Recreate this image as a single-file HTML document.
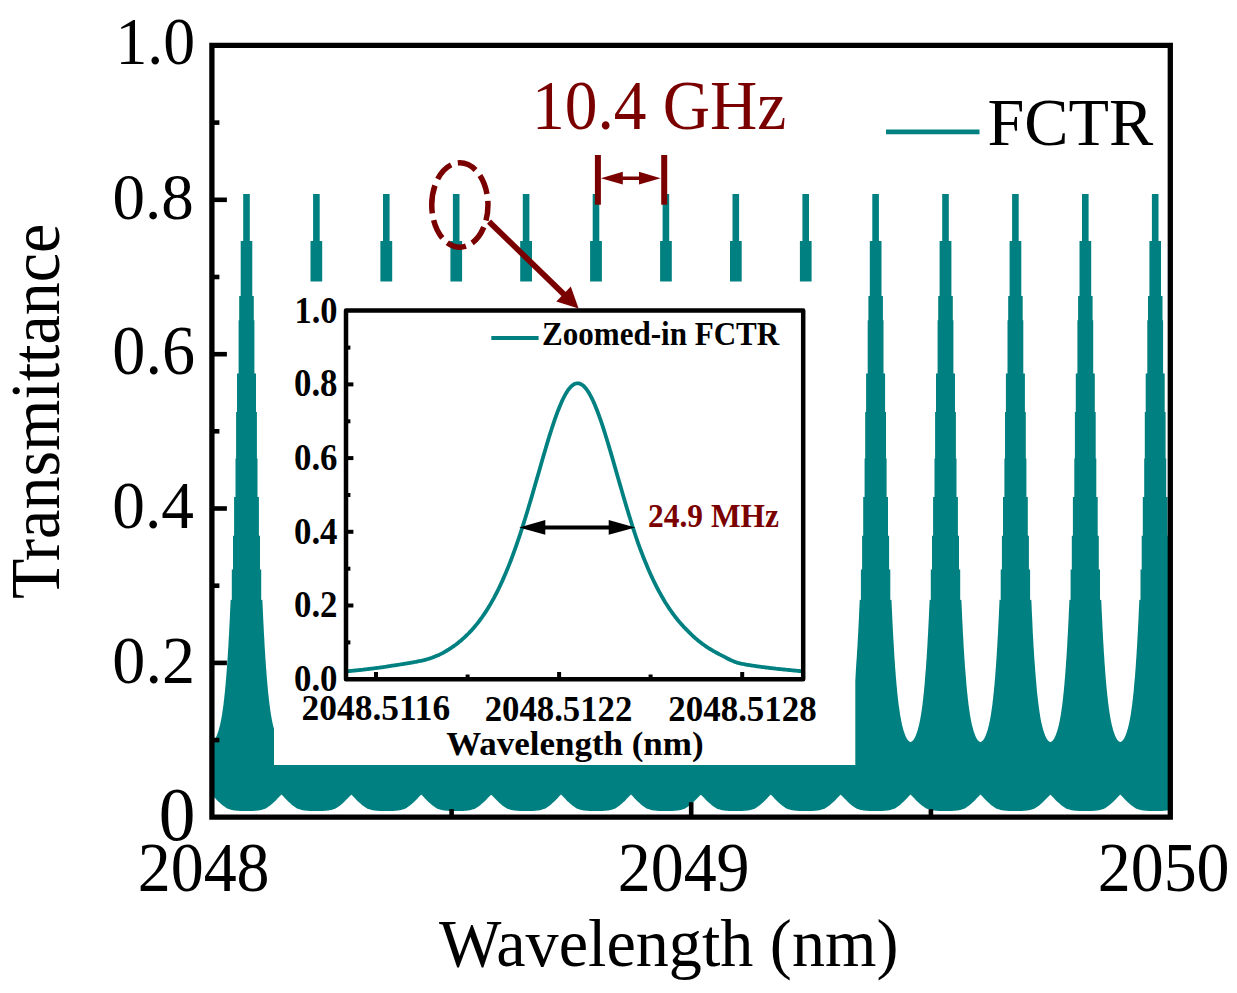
<!DOCTYPE html>
<html><head><meta charset="utf-8"><style>
html,body{margin:0;padding:0;background:#fff;width:1237px;height:993px;overflow:hidden}
svg{display:block}
text{font-family:"Liberation Serif",serif}
</style></head><body><div id="w">
<svg width="1237" height="993" viewBox="0 0 1237 993">
<rect x="0" y="0" width="1237" height="993" fill="#fff"/>
<defs><clipPath id="pc"><rect x="212" y="45" width="958" height="772"/></clipPath></defs>
<path d="M211.6,742.1 L211.9,742.0 L212.2,741.8 L212.6,741.6 L212.9,741.4 L213.3,741.1 L213.7,740.8 L214.0,740.4 L214.4,740.0 L214.7,739.5 L215.1,738.9 L215.4,738.4 L215.8,737.7 L216.1,737.0 L216.5,736.2 L216.8,735.4 L217.2,734.5 L217.5,733.6 L217.9,732.6 L218.2,731.5 L218.6,730.4 L218.9,729.2 L219.3,728.0 L219.6,726.6 L220.0,725.2 L220.3,723.6 L220.7,722.0 L221.0,720.2 L221.4,718.3 L221.7,716.4 L222.1,714.2 L222.4,712.0 L222.8,709.6 L223.1,707.1 L223.5,704.4 L223.8,701.5 L224.2,698.5 L224.5,695.3 L224.9,691.9 L225.2,688.3 L225.6,684.6 L225.9,680.5 L226.3,676.3 L226.6,671.8 L227.0,667.1 L227.3,662.1 L227.7,656.8 L228.0,651.3 L228.4,645.4 L228.7,639.2 L229.1,632.7 L229.4,625.9 L229.8,618.7 L230.1,611.2 L230.5,603.3 L230.6,599.8 L231.8,600.0 L231.8,569.6 L233.0,569.6 L233.0,535.8 L234.1,535.8 L234.1,497.0 L235.5,497.0 L235.5,458.5 L236.1,458.5 L236.1,411.9 L237.0,411.9 L237.0,373.4 L238.6,373.4 L238.6,320.3 L239.2,320.3 L239.2,296.0 L240.7,296.0 L240.7,240.9 L243.2,240.9 L243.2,194.1 L249.8,194.1 L249.8,240.9 L252.3,240.9 L252.3,296.0 L253.8,296.0 L253.8,320.3 L254.4,320.3 L254.4,373.4 L256.0,373.4 L256.0,411.9 L256.9,411.9 L256.9,458.5 L257.5,458.5 L257.5,497.0 L258.9,497.0 L258.9,535.8 L260.0,535.8 L260.0,569.6 L261.2,569.6 L261.2,600.0 L262.4,599.8 L262.5,603.3 L262.9,611.2 L263.2,618.7 L263.6,625.9 L263.9,632.7 L264.3,639.2 L264.6,645.4 L265.0,651.3 L265.3,656.8 L265.7,662.1 L266.0,667.1 L266.4,671.8 L266.7,676.3 L267.1,680.5 L267.4,684.6 L267.8,688.3 L268.1,691.9 L268.5,695.3 L268.8,698.5 L269.2,701.5 L269.5,704.4 L269.9,707.1 L270.2,709.6 L270.6,712.0 L270.9,714.2 L271.3,716.4 L271.6,718.3 L272.0,720.2 L272.3,722.0 L272.7,723.6 L273.0,725.2 L273.4,726.6 L273.8,728.0 L274.1,729.2 L274.4,730.4 L274.8,731.5 L275.1,732.6 L275.5,733.6 L275.8,734.5 L276.2,735.4 L276.5,736.2 L276.9,737.0 L277.2,737.7 L277.6,738.4 L277.9,738.9 L278.3,739.5 L278.6,740.0 L279.0,740.4 L279.4,740.8 L279.7,741.1 L280.1,741.4 L280.4,741.6 L280.8,741.8 L281.1,742.0 L281.4,742.1 L281.4,742.1 L281.8,742.0 L282.1,741.8 L282.5,741.6 L282.8,741.4 L283.2,741.1 L283.5,740.8 L283.9,740.4 L284.2,740.0 L284.6,739.5 L284.9,738.9 L285.3,738.4 L285.6,737.7 L286.0,737.0 L286.4,736.2 L286.7,735.4 L287.1,734.5 L287.4,733.6 L287.8,732.6 L288.1,731.5 L288.4,730.4 L288.8,729.2 L289.1,728.0 L289.5,726.6 L289.9,725.2 L290.2,723.6 L290.6,722.0 L290.9,720.2 L291.2,718.3 L291.6,716.4 L292.0,714.2 L292.3,712.0 L292.7,709.6 L293.0,707.1 L293.4,704.4 L293.7,701.5 L294.1,698.5 L294.4,695.3 L294.8,691.9 L295.1,688.3 L295.5,684.6 L295.8,680.5 L296.2,676.3 L296.5,671.8 L296.9,667.1 L297.2,662.1 L297.6,656.8 L297.9,651.3 L298.3,645.4 L298.6,639.2 L299.0,632.7 L299.3,625.9 L299.7,618.7 L300.0,611.2 L300.4,603.3 L300.5,599.8 L301.7,600.0 L301.7,569.6 L302.9,569.6 L302.9,535.8 L304.0,535.8 L304.0,497.0 L305.4,497.0 L305.4,458.5 L306.0,458.5 L306.0,411.9 L306.9,411.9 L306.9,373.4 L308.5,373.4 L308.5,320.3 L309.1,320.3 L309.1,296.0 L310.5,296.0 L310.5,240.9 L313.1,240.9 L313.1,194.1 L319.7,194.1 L319.7,240.9 L322.2,240.9 L322.2,296.0 L323.6,296.0 L323.6,320.3 L324.3,320.3 L324.3,373.4 L325.9,373.4 L325.9,411.9 L326.8,411.9 L326.8,458.5 L327.4,458.5 L327.4,497.0 L328.8,497.0 L328.8,535.8 L329.9,535.8 L329.9,569.6 L331.1,569.6 L331.1,600.0 L332.3,599.8 L332.4,603.3 L332.8,611.2 L333.1,618.7 L333.5,625.9 L333.8,632.7 L334.2,639.2 L334.5,645.4 L334.9,651.3 L335.2,656.8 L335.6,662.1 L335.9,667.1 L336.3,671.8 L336.6,676.3 L337.0,680.5 L337.3,684.6 L337.7,688.3 L338.0,691.9 L338.4,695.3 L338.7,698.5 L339.1,701.5 L339.4,704.4 L339.8,707.1 L340.1,709.6 L340.5,712.0 L340.8,714.2 L341.2,716.4 L341.5,718.3 L341.9,720.2 L342.2,722.0 L342.6,723.6 L342.9,725.2 L343.3,726.6 L343.6,728.0 L344.0,729.2 L344.3,730.4 L344.7,731.5 L345.0,732.6 L345.4,733.6 L345.7,734.5 L346.1,735.4 L346.4,736.2 L346.8,737.0 L347.1,737.7 L347.5,738.4 L347.8,738.9 L348.2,739.5 L348.5,740.0 L348.9,740.4 L349.2,740.8 L349.6,741.1 L349.9,741.4 L350.3,741.6 L350.6,741.8 L351.0,742.0 L351.3,742.1 L351.4,742.1 L351.7,742.0 L352.1,741.8 L352.4,741.6 L352.8,741.4 L353.1,741.1 L353.5,740.8 L353.8,740.4 L354.2,740.0 L354.5,739.5 L354.9,738.9 L355.2,738.4 L355.6,737.7 L355.9,737.0 L356.2,736.2 L356.6,735.4 L357.0,734.5 L357.3,733.6 L357.7,732.6 L358.0,731.5 L358.4,730.4 L358.7,729.2 L359.1,728.0 L359.4,726.6 L359.8,725.2 L360.1,723.6 L360.5,722.0 L360.8,720.2 L361.2,718.3 L361.5,716.4 L361.9,714.2 L362.2,712.0 L362.6,709.6 L362.9,707.1 L363.3,704.4 L363.6,701.5 L364.0,698.5 L364.3,695.3 L364.7,691.9 L365.0,688.3 L365.4,684.6 L365.7,680.5 L366.1,676.3 L366.4,671.8 L366.8,667.1 L367.1,662.1 L367.5,656.8 L367.8,651.3 L368.2,645.4 L368.5,639.2 L368.9,632.7 L369.2,625.9 L369.6,618.7 L369.9,611.2 L370.3,603.3 L370.4,599.8 L371.6,600.0 L371.6,569.6 L372.8,569.6 L372.8,535.8 L373.9,535.8 L373.9,497.0 L375.3,497.0 L375.3,458.5 L375.9,458.5 L375.9,411.9 L376.8,411.9 L376.8,373.4 L378.4,373.4 L378.4,320.3 L379.1,320.3 L379.1,296.0 L380.4,296.0 L380.4,240.9 L383.0,240.9 L383.0,194.1 L389.6,194.1 L389.6,240.9 L392.2,240.9 L392.2,296.0 L393.6,296.0 L393.6,320.3 L394.2,320.3 L394.2,373.4 L395.8,373.4 L395.8,411.9 L396.7,411.9 L396.7,458.5 L397.3,458.5 L397.3,497.0 L398.7,497.0 L398.7,535.8 L399.8,535.8 L399.8,569.6 L401.0,569.6 L401.0,600.0 L402.2,599.8 L402.3,603.3 L402.7,611.2 L403.0,618.7 L403.4,625.9 L403.7,632.7 L404.1,639.2 L404.4,645.4 L404.8,651.3 L405.1,656.8 L405.5,662.1 L405.8,667.1 L406.2,671.8 L406.5,676.3 L406.9,680.5 L407.2,684.6 L407.6,688.3 L407.9,691.9 L408.3,695.3 L408.6,698.5 L409.0,701.5 L409.3,704.4 L409.7,707.1 L410.0,709.6 L410.4,712.0 L410.8,714.2 L411.1,716.4 L411.4,718.3 L411.8,720.2 L412.1,722.0 L412.5,723.6 L412.8,725.2 L413.2,726.6 L413.5,728.0 L413.9,729.2 L414.2,730.4 L414.6,731.5 L414.9,732.6 L415.3,733.6 L415.6,734.5 L416.0,735.4 L416.4,736.2 L416.7,737.0 L417.1,737.7 L417.4,738.4 L417.8,738.9 L418.1,739.5 L418.4,740.0 L418.8,740.4 L419.1,740.8 L419.5,741.1 L419.9,741.4 L420.2,741.6 L420.6,741.8 L420.9,742.0 L421.2,742.1 L421.3,742.1 L421.6,742.0 L422.0,741.8 L422.3,741.6 L422.7,741.4 L423.0,741.1 L423.4,740.8 L423.7,740.4 L424.1,740.0 L424.4,739.5 L424.8,738.9 L425.1,738.4 L425.5,737.7 L425.8,737.0 L426.2,736.2 L426.5,735.4 L426.9,734.5 L427.2,733.6 L427.6,732.6 L427.9,731.5 L428.3,730.4 L428.6,729.2 L429.0,728.0 L429.3,726.6 L429.7,725.2 L430.0,723.6 L430.4,722.0 L430.7,720.2 L431.1,718.3 L431.4,716.4 L431.8,714.2 L432.1,712.0 L432.5,709.6 L432.8,707.1 L433.2,704.4 L433.5,701.5 L433.9,698.5 L434.2,695.3 L434.6,691.9 L434.9,688.3 L435.3,684.6 L435.6,680.5 L436.0,676.3 L436.3,671.8 L436.7,667.1 L437.0,662.1 L437.4,656.8 L437.7,651.3 L438.1,645.4 L438.4,639.2 L438.8,632.7 L439.1,625.9 L439.5,618.7 L439.8,611.2 L440.2,603.3 L440.3,599.8 L441.5,600.0 L441.5,569.6 L442.7,569.6 L442.7,535.8 L443.8,535.8 L443.8,497.0 L445.2,497.0 L445.2,458.5 L445.8,458.5 L445.8,411.9 L446.7,411.9 L446.7,373.4 L448.3,373.4 L448.3,320.3 L449.0,320.3 L449.0,296.0 L450.4,296.0 L450.4,240.9 L452.9,240.9 L452.9,194.1 L459.5,194.1 L459.5,240.9 L462.1,240.9 L462.1,296.0 L463.5,296.0 L463.5,320.3 L464.1,320.3 L464.1,373.4 L465.7,373.4 L465.7,411.9 L466.6,411.9 L466.6,458.5 L467.2,458.5 L467.2,497.0 L468.6,497.0 L468.6,535.8 L469.7,535.8 L469.7,569.6 L470.9,569.6 L470.9,600.0 L472.1,599.8 L472.2,603.3 L472.6,611.2 L472.9,618.7 L473.3,625.9 L473.6,632.7 L474.0,639.2 L474.3,645.4 L474.7,651.3 L475.0,656.8 L475.4,662.1 L475.8,667.1 L476.1,671.8 L476.4,676.3 L476.8,680.5 L477.1,684.6 L477.5,688.3 L477.9,691.9 L478.2,695.3 L478.6,698.5 L478.9,701.5 L479.2,704.4 L479.6,707.1 L479.9,709.6 L480.3,712.0 L480.6,714.2 L481.0,716.4 L481.4,718.3 L481.7,720.2 L482.1,722.0 L482.4,723.6 L482.8,725.2 L483.1,726.6 L483.5,728.0 L483.8,729.2 L484.2,730.4 L484.5,731.5 L484.9,732.6 L485.2,733.6 L485.6,734.5 L485.9,735.4 L486.2,736.2 L486.6,737.0 L487.0,737.7 L487.3,738.4 L487.7,738.9 L488.0,739.5 L488.4,740.0 L488.7,740.4 L489.1,740.8 L489.4,741.1 L489.8,741.4 L490.1,741.6 L490.5,741.8 L490.8,742.0 L491.2,742.1 L491.2,742.1 L491.5,742.0 L491.9,741.8 L492.2,741.6 L492.6,741.4 L492.9,741.1 L493.2,740.8 L493.6,740.4 L494.0,740.0 L494.3,739.5 L494.7,738.9 L495.0,738.4 L495.4,737.7 L495.7,737.0 L496.1,736.2 L496.4,735.4 L496.8,734.5 L497.1,733.6 L497.5,732.6 L497.8,731.5 L498.2,730.4 L498.5,729.2 L498.9,728.0 L499.2,726.6 L499.6,725.2 L499.9,723.6 L500.3,722.0 L500.6,720.2 L501.0,718.3 L501.3,716.4 L501.7,714.2 L502.0,712.0 L502.4,709.6 L502.7,707.1 L503.1,704.4 L503.4,701.5 L503.8,698.5 L504.1,695.3 L504.5,691.9 L504.8,688.3 L505.2,684.6 L505.5,680.5 L505.9,676.3 L506.2,671.8 L506.6,667.1 L506.9,662.1 L507.3,656.8 L507.6,651.3 L508.0,645.4 L508.3,639.2 L508.7,632.7 L509.0,625.9 L509.4,618.7 L509.7,611.2 L510.1,603.3 L510.2,599.8 L511.4,600.0 L511.4,569.6 L512.6,569.6 L512.6,535.8 L513.7,535.8 L513.7,497.0 L515.1,497.0 L515.1,458.5 L515.7,458.5 L515.7,411.9 L516.6,411.9 L516.6,373.4 L518.2,373.4 L518.2,320.3 L518.9,320.3 L518.9,296.0 L520.2,296.0 L520.2,240.9 L522.8,240.9 L522.8,194.1 L529.4,194.1 L529.4,240.9 L532.0,240.9 L532.0,296.0 L533.4,296.0 L533.4,320.3 L534.0,320.3 L534.0,373.4 L535.6,373.4 L535.6,411.9 L536.5,411.9 L536.5,458.5 L537.1,458.5 L537.1,497.0 L538.5,497.0 L538.5,535.8 L539.6,535.8 L539.6,569.6 L540.8,569.6 L540.8,600.0 L542.0,599.8 L542.1,603.3 L542.5,611.2 L542.8,618.7 L543.2,625.9 L543.5,632.7 L543.9,639.2 L544.2,645.4 L544.6,651.3 L544.9,656.8 L545.3,662.1 L545.6,667.1 L546.0,671.8 L546.3,676.3 L546.7,680.5 L547.0,684.6 L547.4,688.3 L547.8,691.9 L548.1,695.3 L548.4,698.5 L548.8,701.5 L549.1,704.4 L549.5,707.1 L549.9,709.6 L550.2,712.0 L550.5,714.2 L550.9,716.4 L551.2,718.3 L551.6,720.2 L552.0,722.0 L552.3,723.6 L552.6,725.2 L553.0,726.6 L553.4,728.0 L553.7,729.2 L554.0,730.4 L554.4,731.5 L554.8,732.6 L555.1,733.6 L555.5,734.5 L555.8,735.4 L556.1,736.2 L556.5,737.0 L556.9,737.7 L557.2,738.4 L557.5,738.9 L557.9,739.5 L558.2,740.0 L558.6,740.4 L559.0,740.8 L559.3,741.1 L559.6,741.4 L560.0,741.6 L560.4,741.8 L560.7,742.0 L561.1,742.1 L561.0,742.1 L561.4,742.0 L561.8,741.8 L562.1,741.6 L562.5,741.4 L562.8,741.1 L563.1,740.8 L563.5,740.4 L563.9,740.0 L564.2,739.5 L564.5,738.9 L564.9,738.4 L565.2,737.7 L565.6,737.0 L566.0,736.2 L566.3,735.4 L566.6,734.5 L567.0,733.6 L567.4,732.6 L567.7,731.5 L568.1,730.4 L568.4,729.2 L568.8,728.0 L569.1,726.6 L569.5,725.2 L569.8,723.6 L570.2,722.0 L570.5,720.2 L570.9,718.3 L571.2,716.4 L571.6,714.2 L571.9,712.0 L572.2,709.6 L572.6,707.1 L573.0,704.4 L573.3,701.5 L573.7,698.5 L574.0,695.3 L574.4,691.9 L574.7,688.3 L575.1,684.6 L575.4,680.5 L575.8,676.3 L576.1,671.8 L576.5,667.1 L576.8,662.1 L577.2,656.8 L577.5,651.3 L577.9,645.4 L578.2,639.2 L578.6,632.7 L578.9,625.9 L579.3,618.7 L579.6,611.2 L580.0,603.3 L580.1,599.8 L581.3,600.0 L581.3,569.6 L582.5,569.6 L582.5,535.8 L583.6,535.8 L583.6,497.0 L585.0,497.0 L585.0,458.5 L585.6,458.5 L585.6,411.9 L586.5,411.9 L586.5,373.4 L588.1,373.4 L588.1,320.3 L588.8,320.3 L588.8,296.0 L590.1,296.0 L590.1,240.9 L592.7,240.9 L592.7,194.1 L599.3,194.1 L599.3,240.9 L601.9,240.9 L601.9,296.0 L603.2,296.0 L603.2,320.3 L603.9,320.3 L603.9,373.4 L605.5,373.4 L605.5,411.9 L606.4,411.9 L606.4,458.5 L607.0,458.5 L607.0,497.0 L608.4,497.0 L608.4,535.8 L609.5,535.8 L609.5,569.6 L610.7,569.6 L610.7,600.0 L611.9,599.8 L612.0,603.3 L612.4,611.2 L612.7,618.7 L613.1,625.9 L613.4,632.7 L613.8,639.2 L614.1,645.4 L614.5,651.3 L614.8,656.8 L615.2,662.1 L615.5,667.1 L615.9,671.8 L616.2,676.3 L616.6,680.5 L616.9,684.6 L617.3,688.3 L617.6,691.9 L618.0,695.3 L618.3,698.5 L618.7,701.5 L619.0,704.4 L619.4,707.1 L619.8,709.6 L620.1,712.0 L620.4,714.2 L620.8,716.4 L621.1,718.3 L621.5,720.2 L621.8,722.0 L622.2,723.6 L622.5,725.2 L622.9,726.6 L623.2,728.0 L623.6,729.2 L623.9,730.4 L624.3,731.5 L624.6,732.6 L625.0,733.6 L625.4,734.5 L625.7,735.4 L626.0,736.2 L626.4,737.0 L626.8,737.7 L627.1,738.4 L627.5,738.9 L627.8,739.5 L628.1,740.0 L628.5,740.4 L628.9,740.8 L629.2,741.1 L629.5,741.4 L629.9,741.6 L630.2,741.8 L630.6,742.0 L631.0,742.1 L631.0,742.1 L631.3,742.0 L631.7,741.8 L632.0,741.6 L632.4,741.4 L632.7,741.1 L633.1,740.8 L633.4,740.4 L633.8,740.0 L634.1,739.5 L634.5,738.9 L634.8,738.4 L635.2,737.7 L635.5,737.0 L635.9,736.2 L636.2,735.4 L636.6,734.5 L636.9,733.6 L637.3,732.6 L637.6,731.5 L638.0,730.4 L638.3,729.2 L638.7,728.0 L639.0,726.6 L639.4,725.2 L639.7,723.6 L640.1,722.0 L640.4,720.2 L640.8,718.3 L641.1,716.4 L641.5,714.2 L641.8,712.0 L642.2,709.6 L642.5,707.1 L642.9,704.4 L643.2,701.5 L643.6,698.5 L643.9,695.3 L644.3,691.9 L644.6,688.3 L645.0,684.6 L645.3,680.5 L645.7,676.3 L646.0,671.8 L646.4,667.1 L646.7,662.1 L647.1,656.8 L647.4,651.3 L647.8,645.4 L648.1,639.2 L648.5,632.7 L648.8,625.9 L649.2,618.7 L649.5,611.2 L649.9,603.3 L650.0,599.8 L651.2,600.0 L651.2,569.6 L652.4,569.6 L652.4,535.8 L653.5,535.8 L653.5,497.0 L654.9,497.0 L654.9,458.5 L655.5,458.5 L655.5,411.9 L656.4,411.9 L656.4,373.4 L658.0,373.4 L658.0,320.3 L658.7,320.3 L658.7,296.0 L660.1,296.0 L660.1,240.9 L662.6,240.9 L662.6,194.1 L669.2,194.1 L669.2,240.9 L671.8,240.9 L671.8,296.0 L673.2,296.0 L673.2,320.3 L673.8,320.3 L673.8,373.4 L675.4,373.4 L675.4,411.9 L676.3,411.9 L676.3,458.5 L676.9,458.5 L676.9,497.0 L678.3,497.0 L678.3,535.8 L679.4,535.8 L679.4,569.6 L680.6,569.6 L680.6,600.0 L681.8,599.8 L682.0,603.3 L682.3,611.2 L682.6,618.7 L683.0,625.9 L683.4,632.7 L683.7,639.2 L684.1,645.4 L684.4,651.3 L684.8,656.8 L685.1,662.1 L685.5,667.1 L685.8,671.8 L686.2,676.3 L686.5,680.5 L686.9,684.6 L687.2,688.3 L687.6,691.9 L687.9,695.3 L688.2,698.5 L688.6,701.5 L689.0,704.4 L689.3,707.1 L689.7,709.6 L690.0,712.0 L690.4,714.2 L690.7,716.4 L691.1,718.3 L691.4,720.2 L691.8,722.0 L692.1,723.6 L692.5,725.2 L692.8,726.6 L693.2,728.0 L693.5,729.2 L693.9,730.4 L694.2,731.5 L694.6,732.6 L694.9,733.6 L695.3,734.5 L695.6,735.4 L696.0,736.2 L696.3,737.0 L696.7,737.7 L697.0,738.4 L697.4,738.9 L697.7,739.5 L698.1,740.0 L698.4,740.4 L698.8,740.8 L699.1,741.1 L699.5,741.4 L699.8,741.6 L700.2,741.8 L700.5,742.0 L700.9,742.1 L700.9,742.1 L701.2,742.0 L701.6,741.8 L701.9,741.6 L702.3,741.4 L702.6,741.1 L703.0,740.8 L703.3,740.4 L703.7,740.0 L704.0,739.5 L704.4,738.9 L704.7,738.4 L705.1,737.7 L705.4,737.0 L705.8,736.2 L706.1,735.4 L706.5,734.5 L706.8,733.6 L707.2,732.6 L707.5,731.5 L707.9,730.4 L708.2,729.2 L708.6,728.0 L708.9,726.6 L709.3,725.2 L709.6,723.6 L710.0,722.0 L710.3,720.2 L710.7,718.3 L711.0,716.4 L711.4,714.2 L711.7,712.0 L712.1,709.6 L712.4,707.1 L712.8,704.4 L713.1,701.5 L713.5,698.5 L713.8,695.3 L714.2,691.9 L714.5,688.3 L714.9,684.6 L715.2,680.5 L715.6,676.3 L715.9,671.8 L716.3,667.1 L716.6,662.1 L717.0,656.8 L717.3,651.3 L717.7,645.4 L718.0,639.2 L718.4,632.7 L718.7,625.9 L719.1,618.7 L719.4,611.2 L719.8,603.3 L719.9,599.8 L721.1,600.0 L721.1,569.6 L722.3,569.6 L722.3,535.8 L723.4,535.8 L723.4,497.0 L724.8,497.0 L724.8,458.5 L725.4,458.5 L725.4,411.9 L726.3,411.9 L726.3,373.4 L727.9,373.4 L727.9,320.3 L728.6,320.3 L728.6,296.0 L730.0,296.0 L730.0,240.9 L732.5,240.9 L732.5,194.1 L739.1,194.1 L739.1,240.9 L741.7,240.9 L741.7,296.0 L743.1,296.0 L743.1,320.3 L743.7,320.3 L743.7,373.4 L745.3,373.4 L745.3,411.9 L746.2,411.9 L746.2,458.5 L746.8,458.5 L746.8,497.0 L748.2,497.0 L748.2,535.8 L749.3,535.8 L749.3,569.6 L750.5,569.6 L750.5,600.0 L751.7,599.8 L751.9,603.3 L752.2,611.2 L752.5,618.7 L752.9,625.9 L753.2,632.7 L753.6,639.2 L754.0,645.4 L754.3,651.3 L754.6,656.8 L755.0,662.1 L755.4,667.1 L755.7,671.8 L756.0,676.3 L756.4,680.5 L756.8,684.6 L757.1,688.3 L757.5,691.9 L757.8,695.3 L758.1,698.5 L758.5,701.5 L758.9,704.4 L759.2,707.1 L759.6,709.6 L759.9,712.0 L760.2,714.2 L760.6,716.4 L761.0,718.3 L761.3,720.2 L761.7,722.0 L762.0,723.6 L762.4,725.2 L762.7,726.6 L763.1,728.0 L763.4,729.2 L763.8,730.4 L764.1,731.5 L764.5,732.6 L764.8,733.6 L765.2,734.5 L765.5,735.4 L765.9,736.2 L766.2,737.0 L766.6,737.7 L766.9,738.4 L767.2,738.9 L767.6,739.5 L768.0,740.0 L768.3,740.4 L768.7,740.8 L769.0,741.1 L769.4,741.4 L769.7,741.6 L770.1,741.8 L770.4,742.0 L770.8,742.1 L770.8,742.1 L771.1,742.0 L771.5,741.8 L771.8,741.6 L772.2,741.4 L772.5,741.1 L772.9,740.8 L773.2,740.4 L773.6,740.0 L773.9,739.5 L774.2,738.9 L774.6,738.4 L775.0,737.7 L775.3,737.0 L775.7,736.2 L776.0,735.4 L776.4,734.5 L776.7,733.6 L777.1,732.6 L777.4,731.5 L777.8,730.4 L778.1,729.2 L778.5,728.0 L778.8,726.6 L779.2,725.2 L779.5,723.6 L779.9,722.0 L780.2,720.2 L780.6,718.3 L780.9,716.4 L781.3,714.2 L781.6,712.0 L782.0,709.6 L782.3,707.1 L782.7,704.4 L783.0,701.5 L783.4,698.5 L783.7,695.3 L784.1,691.9 L784.4,688.3 L784.8,684.6 L785.1,680.5 L785.5,676.3 L785.8,671.8 L786.2,667.1 L786.5,662.1 L786.9,656.8 L787.2,651.3 L787.6,645.4 L787.9,639.2 L788.3,632.7 L788.6,625.9 L789.0,618.7 L789.3,611.2 L789.7,603.3 L789.8,599.8 L791.0,600.0 L791.0,569.6 L792.2,569.6 L792.2,535.8 L793.3,535.8 L793.3,497.0 L794.7,497.0 L794.7,458.5 L795.3,458.5 L795.3,411.9 L796.2,411.9 L796.2,373.4 L797.8,373.4 L797.8,320.3 L798.5,320.3 L798.5,296.0 L799.9,296.0 L799.9,240.9 L802.4,240.9 L802.4,194.1 L809.0,194.1 L809.0,240.9 L811.6,240.9 L811.6,296.0 L813.0,296.0 L813.0,320.3 L813.6,320.3 L813.6,373.4 L815.2,373.4 L815.2,411.9 L816.1,411.9 L816.1,458.5 L816.7,458.5 L816.7,497.0 L818.1,497.0 L818.1,535.8 L819.2,535.8 L819.2,569.6 L820.4,569.6 L820.4,600.0 L821.6,599.8 L821.8,603.3 L822.1,611.2 L822.4,618.7 L822.8,625.9 L823.1,632.7 L823.5,639.2 L823.9,645.4 L824.2,651.3 L824.5,656.8 L824.9,662.1 L825.2,667.1 L825.6,671.8 L826.0,676.3 L826.3,680.5 L826.6,684.6 L827.0,688.3 L827.4,691.9 L827.7,695.3 L828.0,698.5 L828.4,701.5 L828.8,704.4 L829.1,707.1 L829.5,709.6 L829.8,712.0 L830.1,714.2 L830.5,716.4 L830.9,718.3 L831.2,720.2 L831.5,722.0 L831.9,723.6 L832.2,725.2 L832.6,726.6 L833.0,728.0 L833.3,729.2 L833.6,730.4 L834.0,731.5 L834.4,732.6 L834.7,733.6 L835.1,734.5 L835.4,735.4 L835.8,736.2 L836.1,737.0 L836.5,737.7 L836.8,738.4 L837.2,738.9 L837.5,739.5 L837.9,740.0 L838.2,740.4 L838.6,740.8 L838.9,741.1 L839.2,741.4 L839.6,741.6 L840.0,741.8 L840.3,742.0 L840.7,742.1 L840.6,742.1 L841.0,742.0 L841.4,741.8 L841.7,741.6 L842.1,741.4 L842.4,741.1 L842.8,740.8 L843.1,740.4 L843.5,740.0 L843.8,739.5 L844.2,738.9 L844.5,738.4 L844.9,737.7 L845.2,737.0 L845.6,736.2 L845.9,735.4 L846.2,734.5 L846.6,733.6 L847.0,732.6 L847.3,731.5 L847.7,730.4 L848.0,729.2 L848.4,728.0 L848.7,726.6 L849.1,725.2 L849.4,723.6 L849.8,722.0 L850.1,720.2 L850.5,718.3 L850.8,716.4 L851.2,714.2 L851.5,712.0 L851.9,709.6 L852.2,707.1 L852.6,704.4 L852.9,701.5 L853.3,698.5 L853.6,695.3 L854.0,691.9 L854.3,688.3 L854.7,684.6 L855.0,680.5 L855.4,676.3 L855.7,671.8 L856.1,667.1 L856.4,662.1 L856.8,656.8 L857.1,651.3 L857.5,645.4 L857.8,639.2 L858.2,632.7 L858.5,625.9 L858.9,618.7 L859.2,611.2 L859.6,603.3 L859.7,599.8 L860.9,600.0 L860.9,569.6 L862.1,569.6 L862.1,535.8 L863.2,535.8 L863.2,497.0 L864.6,497.0 L864.6,458.5 L865.2,458.5 L865.2,411.9 L866.1,411.9 L866.1,373.4 L867.7,373.4 L867.7,320.3 L868.4,320.3 L868.4,296.0 L869.8,296.0 L869.8,240.9 L872.3,240.9 L872.3,194.1 L878.9,194.1 L878.9,240.9 L881.5,240.9 L881.5,296.0 L882.9,296.0 L882.9,320.3 L883.5,320.3 L883.5,373.4 L885.1,373.4 L885.1,411.9 L886.0,411.9 L886.0,458.5 L886.6,458.5 L886.6,497.0 L888.0,497.0 L888.0,535.8 L889.1,535.8 L889.1,569.6 L890.3,569.6 L890.3,600.0 L891.5,599.8 L891.6,603.3 L892.0,611.2 L892.3,618.7 L892.7,625.9 L893.0,632.7 L893.4,639.2 L893.8,645.4 L894.1,651.3 L894.4,656.8 L894.8,662.1 L895.1,667.1 L895.5,671.8 L895.8,676.3 L896.2,680.5 L896.5,684.6 L896.9,688.3 L897.2,691.9 L897.6,695.3 L897.9,698.5 L898.3,701.5 L898.6,704.4 L899.0,707.1 L899.4,709.6 L899.7,712.0 L900.0,714.2 L900.4,716.4 L900.8,718.3 L901.1,720.2 L901.5,722.0 L901.8,723.6 L902.1,725.2 L902.5,726.6 L902.9,728.0 L903.2,729.2 L903.5,730.4 L903.9,731.5 L904.2,732.6 L904.6,733.6 L905.0,734.5 L905.3,735.4 L905.6,736.2 L906.0,737.0 L906.4,737.7 L906.7,738.4 L907.0,738.9 L907.4,739.5 L907.8,740.0 L908.1,740.4 L908.5,740.8 L908.8,741.1 L909.1,741.4 L909.5,741.6 L909.9,741.8 L910.2,742.0 L910.6,742.1 L910.5,742.1 L910.9,742.0 L911.2,741.8 L911.6,741.6 L912.0,741.4 L912.3,741.1 L912.6,740.8 L913.0,740.4 L913.4,740.0 L913.7,739.5 L914.0,738.9 L914.4,738.4 L914.8,737.7 L915.1,737.0 L915.5,736.2 L915.8,735.4 L916.1,734.5 L916.5,733.6 L916.9,732.6 L917.2,731.5 L917.6,730.4 L917.9,729.2 L918.2,728.0 L918.6,726.6 L919.0,725.2 L919.3,723.6 L919.7,722.0 L920.0,720.2 L920.4,718.3 L920.7,716.4 L921.1,714.2 L921.4,712.0 L921.8,709.6 L922.1,707.1 L922.5,704.4 L922.8,701.5 L923.2,698.5 L923.5,695.3 L923.9,691.9 L924.2,688.3 L924.6,684.6 L924.9,680.5 L925.2,676.3 L925.6,671.8 L926.0,667.1 L926.3,662.1 L926.7,656.8 L927.0,651.3 L927.4,645.4 L927.7,639.2 L928.1,632.7 L928.4,625.9 L928.8,618.7 L929.1,611.2 L929.5,603.3 L929.6,599.8 L930.8,600.0 L930.8,569.6 L932.0,569.6 L932.0,535.8 L933.1,535.8 L933.1,497.0 L934.5,497.0 L934.5,458.5 L935.1,458.5 L935.1,411.9 L936.0,411.9 L936.0,373.4 L937.6,373.4 L937.6,320.3 L938.2,320.3 L938.2,296.0 L939.6,296.0 L939.6,240.9 L942.2,240.9 L942.2,194.1 L948.8,194.1 L948.8,240.9 L951.4,240.9 L951.4,296.0 L952.8,296.0 L952.8,320.3 L953.4,320.3 L953.4,373.4 L955.0,373.4 L955.0,411.9 L955.9,411.9 L955.9,458.5 L956.5,458.5 L956.5,497.0 L957.9,497.0 L957.9,535.8 L959.0,535.8 L959.0,569.6 L960.2,569.6 L960.2,600.0 L961.4,599.8 L961.5,603.3 L961.9,611.2 L962.2,618.7 L962.6,625.9 L962.9,632.7 L963.3,639.2 L963.6,645.4 L964.0,651.3 L964.3,656.8 L964.7,662.1 L965.0,667.1 L965.4,671.8 L965.8,676.3 L966.1,680.5 L966.4,684.6 L966.8,688.3 L967.1,691.9 L967.5,695.3 L967.8,698.5 L968.2,701.5 L968.5,704.4 L968.9,707.1 L969.2,709.6 L969.6,712.0 L969.9,714.2 L970.3,716.4 L970.6,718.3 L971.0,720.2 L971.3,722.0 L971.7,723.6 L972.0,725.2 L972.4,726.6 L972.8,728.0 L973.1,729.2 L973.4,730.4 L973.8,731.5 L974.1,732.6 L974.5,733.6 L974.9,734.5 L975.2,735.4 L975.5,736.2 L975.9,737.0 L976.2,737.7 L976.6,738.4 L977.0,738.9 L977.3,739.5 L977.6,740.0 L978.0,740.4 L978.4,740.8 L978.7,741.1 L979.0,741.4 L979.4,741.6 L979.8,741.8 L980.1,742.0 L980.5,742.1 L980.5,742.1 L980.8,742.0 L981.2,741.8 L981.5,741.6 L981.9,741.4 L982.2,741.1 L982.6,740.8 L982.9,740.4 L983.3,740.0 L983.6,739.5 L984.0,738.9 L984.3,738.4 L984.7,737.7 L985.0,737.0 L985.4,736.2 L985.7,735.4 L986.1,734.5 L986.4,733.6 L986.8,732.6 L987.1,731.5 L987.5,730.4 L987.8,729.2 L988.2,728.0 L988.5,726.6 L988.9,725.2 L989.2,723.6 L989.6,722.0 L989.9,720.2 L990.3,718.3 L990.6,716.4 L991.0,714.2 L991.3,712.0 L991.7,709.6 L992.0,707.1 L992.4,704.4 L992.7,701.5 L993.1,698.5 L993.4,695.3 L993.8,691.9 L994.1,688.3 L994.5,684.6 L994.8,680.5 L995.2,676.3 L995.5,671.8 L995.9,667.1 L996.2,662.1 L996.6,656.8 L996.9,651.3 L997.3,645.4 L997.6,639.2 L998.0,632.7 L998.3,625.9 L998.7,618.7 L999.0,611.2 L999.4,603.3 L999.5,599.8 L1000.7,600.0 L1000.7,569.6 L1001.9,569.6 L1001.9,535.8 L1003.0,535.8 L1003.0,497.0 L1004.4,497.0 L1004.4,458.5 L1005.0,458.5 L1005.0,411.9 L1005.9,411.9 L1005.9,373.4 L1007.5,373.4 L1007.5,320.3 L1008.2,320.3 L1008.2,296.0 L1009.6,296.0 L1009.6,240.9 L1012.1,240.9 L1012.1,194.1 L1018.7,194.1 L1018.7,240.9 L1021.3,240.9 L1021.3,296.0 L1022.7,296.0 L1022.7,320.3 L1023.3,320.3 L1023.3,373.4 L1024.9,373.4 L1024.9,411.9 L1025.8,411.9 L1025.8,458.5 L1026.4,458.5 L1026.4,497.0 L1027.8,497.0 L1027.8,535.8 L1028.9,535.8 L1028.9,569.6 L1030.1,569.6 L1030.1,600.0 L1031.3,599.8 L1031.5,603.3 L1031.8,611.2 L1032.2,618.7 L1032.5,625.9 L1032.8,632.7 L1033.2,639.2 L1033.5,645.4 L1033.9,651.3 L1034.2,656.8 L1034.6,662.1 L1035.0,667.1 L1035.3,671.8 L1035.7,676.3 L1036.0,680.5 L1036.4,684.6 L1036.7,688.3 L1037.0,691.9 L1037.4,695.3 L1037.8,698.5 L1038.1,701.5 L1038.5,704.4 L1038.8,707.1 L1039.2,709.6 L1039.5,712.0 L1039.9,714.2 L1040.2,716.4 L1040.5,718.3 L1040.9,720.2 L1041.2,722.0 L1041.6,723.6 L1042.0,725.2 L1042.3,726.6 L1042.7,728.0 L1043.0,729.2 L1043.4,730.4 L1043.7,731.5 L1044.1,732.6 L1044.4,733.6 L1044.8,734.5 L1045.1,735.4 L1045.5,736.2 L1045.8,737.0 L1046.2,737.7 L1046.5,738.4 L1046.9,738.9 L1047.2,739.5 L1047.6,740.0 L1047.9,740.4 L1048.2,740.8 L1048.6,741.1 L1049.0,741.4 L1049.3,741.6 L1049.7,741.8 L1050.0,742.0 L1050.4,742.1 L1050.4,742.1 L1050.7,742.0 L1051.1,741.8 L1051.4,741.6 L1051.8,741.4 L1052.1,741.1 L1052.5,740.8 L1052.8,740.4 L1053.2,740.0 L1053.5,739.5 L1053.9,738.9 L1054.2,738.4 L1054.6,737.7 L1054.9,737.0 L1055.3,736.2 L1055.6,735.4 L1056.0,734.5 L1056.3,733.6 L1056.7,732.6 L1057.0,731.5 L1057.4,730.4 L1057.7,729.2 L1058.1,728.0 L1058.4,726.6 L1058.8,725.2 L1059.1,723.6 L1059.5,722.0 L1059.8,720.2 L1060.2,718.3 L1060.5,716.4 L1060.9,714.2 L1061.2,712.0 L1061.6,709.6 L1061.9,707.1 L1062.3,704.4 L1062.6,701.5 L1063.0,698.5 L1063.3,695.3 L1063.7,691.9 L1064.0,688.3 L1064.4,684.6 L1064.7,680.5 L1065.1,676.3 L1065.4,671.8 L1065.8,667.1 L1066.1,662.1 L1066.5,656.8 L1066.8,651.3 L1067.2,645.4 L1067.5,639.2 L1067.9,632.7 L1068.2,625.9 L1068.6,618.7 L1068.9,611.2 L1069.3,603.3 L1069.4,599.8 L1070.6,600.0 L1070.6,569.6 L1071.8,569.6 L1071.8,535.8 L1072.9,535.8 L1072.9,497.0 L1074.3,497.0 L1074.3,458.5 L1074.9,458.5 L1074.9,411.9 L1075.8,411.9 L1075.8,373.4 L1077.4,373.4 L1077.4,320.3 L1078.1,320.3 L1078.1,296.0 L1079.5,296.0 L1079.5,240.9 L1082.0,240.9 L1082.0,194.1 L1088.6,194.1 L1088.6,240.9 L1091.2,240.9 L1091.2,296.0 L1092.6,296.0 L1092.6,320.3 L1093.2,320.3 L1093.2,373.4 L1094.8,373.4 L1094.8,411.9 L1095.7,411.9 L1095.7,458.5 L1096.3,458.5 L1096.3,497.0 L1097.7,497.0 L1097.7,535.8 L1098.8,535.8 L1098.8,569.6 L1100.0,569.6 L1100.0,600.0 L1101.2,599.8 L1101.4,603.3 L1101.7,611.2 L1102.1,618.7 L1102.4,625.9 L1102.8,632.7 L1103.1,639.2 L1103.5,645.4 L1103.8,651.3 L1104.2,656.8 L1104.5,662.1 L1104.9,667.1 L1105.2,671.8 L1105.6,676.3 L1105.9,680.5 L1106.3,684.6 L1106.6,688.3 L1107.0,691.9 L1107.3,695.3 L1107.7,698.5 L1108.0,701.5 L1108.4,704.4 L1108.7,707.1 L1109.1,709.6 L1109.4,712.0 L1109.8,714.2 L1110.1,716.4 L1110.5,718.3 L1110.8,720.2 L1111.2,722.0 L1111.5,723.6 L1111.9,725.2 L1112.2,726.6 L1112.6,728.0 L1112.9,729.2 L1113.3,730.4 L1113.6,731.5 L1114.0,732.6 L1114.3,733.6 L1114.7,734.5 L1115.0,735.4 L1115.4,736.2 L1115.7,737.0 L1116.1,737.7 L1116.4,738.4 L1116.8,738.9 L1117.1,739.5 L1117.5,740.0 L1117.8,740.4 L1118.2,740.8 L1118.5,741.1 L1118.9,741.4 L1119.2,741.6 L1119.6,741.8 L1119.9,742.0 L1120.3,742.1 L1120.2,742.1 L1120.6,742.0 L1121.0,741.8 L1121.3,741.6 L1121.7,741.4 L1122.0,741.1 L1122.4,740.8 L1122.7,740.4 L1123.0,740.0 L1123.4,739.5 L1123.8,738.9 L1124.1,738.4 L1124.5,737.7 L1124.8,737.0 L1125.2,736.2 L1125.5,735.4 L1125.9,734.5 L1126.2,733.6 L1126.6,732.6 L1126.9,731.5 L1127.2,730.4 L1127.6,729.2 L1128.0,728.0 L1128.3,726.6 L1128.7,725.2 L1129.0,723.6 L1129.4,722.0 L1129.7,720.2 L1130.1,718.3 L1130.4,716.4 L1130.8,714.2 L1131.1,712.0 L1131.5,709.6 L1131.8,707.1 L1132.2,704.4 L1132.5,701.5 L1132.9,698.5 L1133.2,695.3 L1133.6,691.9 L1133.9,688.3 L1134.2,684.6 L1134.6,680.5 L1135.0,676.3 L1135.3,671.8 L1135.7,667.1 L1136.0,662.1 L1136.4,656.8 L1136.7,651.3 L1137.1,645.4 L1137.4,639.2 L1137.8,632.7 L1138.1,625.9 L1138.5,618.7 L1138.8,611.2 L1139.2,603.3 L1139.3,599.8 L1140.5,600.0 L1140.5,569.6 L1141.7,569.6 L1141.7,535.8 L1142.8,535.8 L1142.8,497.0 L1144.2,497.0 L1144.2,458.5 L1144.8,458.5 L1144.8,411.9 L1145.7,411.9 L1145.7,373.4 L1147.3,373.4 L1147.3,320.3 L1148.0,320.3 L1148.0,296.0 L1149.4,296.0 L1149.4,240.9 L1151.9,240.9 L1151.9,194.1 L1158.5,194.1 L1158.5,240.9 L1161.0,240.9 L1161.0,296.0 L1162.5,296.0 L1162.5,320.3 L1163.1,320.3 L1163.1,373.4 L1164.7,373.4 L1164.7,411.9 L1165.6,411.9 L1165.6,458.5 L1166.2,458.5 L1166.2,497.0 L1167.6,497.0 L1167.6,535.8 L1168.7,535.8 L1168.7,569.6 L1169.9,569.6 L1169.9,600.0 L1171.1,599.8 L1171.2,603.3 L1171.6,611.2 L1172.0,618.7 L1172.3,625.9 L1172.7,632.7 L1173.0,639.2 L1173.3,645.4 L1173.7,651.3 L1174.0,656.8 L1174.4,662.1 L1174.8,667.1 L1175.1,671.8 L1175.5,676.3 L1175.8,680.5 L1176.2,684.6 L1176.5,688.3 L1176.8,691.9 L1177.2,695.3 L1177.5,698.5 L1177.9,701.5 L1178.2,704.4 L1178.6,707.1 L1179.0,709.6 L1179.3,712.0 L1179.7,714.2 L1180.0,716.4 L1180.3,718.3 L1180.7,720.2 L1181.0,722.0 L1181.4,723.6 L1181.8,725.2 L1182.1,726.6 L1182.5,728.0 L1182.8,729.2 L1183.2,730.4 L1183.5,731.5 L1183.8,732.6 L1184.2,733.6 L1184.5,734.5 L1184.9,735.4 L1185.2,736.2 L1185.6,737.0 L1186.0,737.7 L1186.3,738.4 L1186.7,738.9 L1187.0,739.5 L1187.4,740.0 L1187.7,740.4 L1188.0,740.8 L1188.4,741.1 L1188.8,741.4 L1189.1,741.6 L1189.5,741.8 L1189.8,742.0 L1190.2,742.1 L1172.0,809.3 L1171.5,809.5 L1171.0,809.6 L1170.5,809.8 L1170.0,810.0 L1169.5,810.1 L1169.0,810.2 L1168.5,810.2 L1168.0,810.3 L1167.5,810.4 L1167.0,810.4 L1166.5,810.5 L1166.0,810.6 L1165.5,810.7 L1165.0,810.7 L1164.5,810.7 L1164.0,810.8 L1163.5,810.8 L1163.0,810.8 L1162.5,810.9 L1162.0,810.9 L1161.5,810.9 L1161.0,810.9 L1160.5,811.0 L1160.0,811.0 L1159.5,811.0 L1159.0,811.0 L1158.5,811.0 L1158.0,811.0 L1157.5,811.0 L1157.0,811.0 L1156.5,811.0 L1156.0,811.0 L1155.5,811.0 L1155.0,811.0 L1154.5,811.0 L1154.0,811.0 L1153.5,811.0 L1153.0,811.0 L1152.5,811.0 L1152.0,811.0 L1151.5,811.0 L1151.0,811.0 L1150.5,811.0 L1150.0,811.0 L1149.5,811.0 L1149.0,810.9 L1148.5,810.9 L1148.0,810.9 L1147.5,810.8 L1147.0,810.8 L1146.5,810.8 L1146.0,810.7 L1145.5,810.7 L1145.0,810.7 L1144.5,810.6 L1144.0,810.5 L1143.5,810.5 L1143.0,810.4 L1142.5,810.3 L1142.0,810.3 L1141.5,810.2 L1141.0,810.1 L1140.5,810.0 L1140.0,809.8 L1139.5,809.7 L1139.0,809.5 L1138.5,809.4 L1138.0,809.2 L1137.5,809.1 L1137.0,808.9 L1136.5,808.7 L1136.0,808.6 L1135.5,808.2 L1135.0,807.9 L1134.5,807.5 L1134.0,807.2 L1133.5,806.8 L1133.0,806.5 L1132.5,806.1 L1132.0,805.8 L1131.5,805.4 L1131.0,805.1 L1130.5,804.6 L1130.0,804.2 L1129.5,803.7 L1129.0,803.3 L1128.5,802.8 L1128.0,802.4 L1127.5,801.9 L1127.0,801.5 L1126.5,801.0 L1126.0,800.5 L1125.5,800.0 L1125.0,799.5 L1124.5,798.9 L1124.0,798.4 L1123.5,797.9 L1123.0,797.3 L1122.5,796.8 L1122.0,796.3 L1121.5,795.8 L1121.0,795.3 L1120.5,794.8 L1120.0,794.8 L1119.5,795.3 L1119.0,795.8 L1118.5,796.3 L1118.0,796.8 L1117.5,797.3 L1117.0,797.9 L1116.5,798.4 L1116.0,798.9 L1115.5,799.5 L1115.0,800.0 L1114.5,800.5 L1114.0,801.0 L1113.5,801.5 L1113.0,801.9 L1112.5,802.4 L1112.0,802.8 L1111.5,803.3 L1111.0,803.7 L1110.5,804.2 L1110.0,804.6 L1109.5,805.1 L1109.0,805.4 L1108.5,805.8 L1108.0,806.1 L1107.5,806.5 L1107.0,806.8 L1106.5,807.2 L1106.0,807.5 L1105.5,807.9 L1105.0,808.2 L1104.5,808.6 L1104.0,808.7 L1103.5,808.9 L1103.0,809.1 L1102.5,809.2 L1102.0,809.4 L1101.5,809.5 L1101.0,809.7 L1100.5,809.8 L1100.0,810.0 L1099.5,810.1 L1099.0,810.2 L1098.5,810.3 L1098.0,810.3 L1097.5,810.4 L1097.0,810.5 L1096.5,810.5 L1096.0,810.6 L1095.5,810.7 L1095.0,810.7 L1094.5,810.7 L1094.0,810.8 L1093.5,810.8 L1093.0,810.8 L1092.5,810.9 L1092.0,810.9 L1091.5,810.9 L1091.0,811.0 L1090.5,811.0 L1090.0,811.0 L1089.5,811.0 L1089.0,811.0 L1088.5,811.0 L1088.0,811.0 L1087.5,811.0 L1087.0,811.0 L1086.5,811.0 L1086.0,811.0 L1085.5,811.0 L1085.0,811.0 L1084.5,811.0 L1084.0,811.0 L1083.5,811.0 L1083.0,811.0 L1082.5,811.0 L1082.0,811.0 L1081.5,811.0 L1081.0,811.0 L1080.5,811.0 L1080.0,811.0 L1079.5,810.9 L1079.0,810.9 L1078.5,810.9 L1078.0,810.9 L1077.5,810.8 L1077.0,810.8 L1076.5,810.8 L1076.0,810.7 L1075.5,810.7 L1075.0,810.7 L1074.5,810.6 L1074.0,810.5 L1073.5,810.4 L1073.0,810.4 L1072.5,810.3 L1072.0,810.2 L1071.5,810.2 L1071.0,810.1 L1070.5,810.0 L1070.0,809.8 L1069.5,809.6 L1069.0,809.5 L1068.5,809.3 L1068.0,809.2 L1067.5,809.0 L1067.0,808.9 L1066.5,808.7 L1066.0,808.5 L1065.5,808.1 L1065.0,807.8 L1064.5,807.5 L1064.0,807.1 L1063.5,806.8 L1063.0,806.4 L1062.5,806.1 L1062.0,805.7 L1061.5,805.4 L1061.0,805.0 L1060.5,804.5 L1060.0,804.1 L1059.5,803.6 L1059.0,803.2 L1058.5,802.7 L1058.0,802.3 L1057.5,801.8 L1057.0,801.4 L1056.5,800.9 L1056.0,800.4 L1055.5,799.9 L1055.0,799.4 L1054.5,798.8 L1054.0,798.3 L1053.5,797.8 L1053.0,797.2 L1052.5,796.7 L1052.0,796.2 L1051.5,795.7 L1051.0,795.2 L1050.5,794.7 L1050.0,794.9 L1049.5,795.4 L1049.0,795.9 L1048.5,796.4 L1048.0,796.9 L1047.5,797.4 L1047.0,798.0 L1046.5,798.5 L1046.0,799.0 L1045.5,799.6 L1045.0,800.1 L1044.5,800.6 L1044.0,801.1 L1043.5,801.6 L1043.0,802.0 L1042.5,802.5 L1042.0,802.9 L1041.5,803.4 L1041.0,803.8 L1040.5,804.3 L1040.0,804.7 L1039.5,805.2 L1039.0,805.5 L1038.5,805.9 L1038.0,806.2 L1037.5,806.6 L1037.0,806.9 L1036.5,807.2 L1036.0,807.6 L1035.5,807.9 L1035.0,808.3 L1034.5,808.6 L1034.0,808.8 L1033.5,808.9 L1033.0,809.1 L1032.5,809.2 L1032.0,809.4 L1031.5,809.6 L1031.0,809.7 L1030.5,809.9 L1030.0,810.0 L1029.5,810.1 L1029.0,810.2 L1028.5,810.3 L1028.0,810.3 L1027.5,810.4 L1027.0,810.5 L1026.5,810.5 L1026.0,810.6 L1025.5,810.7 L1025.0,810.7 L1024.5,810.8 L1024.0,810.8 L1023.5,810.8 L1023.0,810.8 L1022.5,810.9 L1022.0,810.9 L1021.5,810.9 L1021.0,811.0 L1020.5,811.0 L1020.0,811.0 L1019.5,811.0 L1019.0,811.0 L1018.5,811.0 L1018.0,811.0 L1017.5,811.0 L1017.0,811.0 L1016.5,811.0 L1016.0,811.0 L1015.5,811.0 L1015.0,811.0 L1014.5,811.0 L1014.0,811.0 L1013.5,811.0 L1013.0,811.0 L1012.5,811.0 L1012.0,811.0 L1011.5,811.0 L1011.0,811.0 L1010.5,811.0 L1010.0,811.0 L1009.5,810.9 L1009.0,810.9 L1008.5,810.9 L1008.0,810.9 L1007.5,810.8 L1007.0,810.8 L1006.5,810.8 L1006.0,810.7 L1005.5,810.7 L1005.0,810.6 L1004.5,810.6 L1004.0,810.5 L1003.5,810.4 L1003.0,810.4 L1002.5,810.3 L1002.0,810.2 L1001.5,810.2 L1001.0,810.1 L1000.5,809.9 L1000.0,809.8 L999.5,809.6 L999.0,809.5 L998.5,809.3 L998.0,809.1 L997.5,809.0 L997.0,808.8 L996.5,808.7 L996.0,808.4 L995.5,808.1 L995.0,807.7 L994.5,807.4 L994.0,807.0 L993.5,806.7 L993.0,806.3 L992.5,806.0 L992.0,805.7 L991.5,805.3 L991.0,804.9 L990.5,804.4 L990.0,804.0 L989.5,803.5 L989.0,803.1 L988.5,802.6 L988.0,802.2 L987.5,801.8 L987.0,801.3 L986.5,800.8 L986.0,800.3 L985.5,799.8 L985.0,799.2 L984.5,798.7 L984.0,798.2 L983.5,797.7 L983.0,797.1 L982.5,796.6 L982.0,796.1 L981.5,795.6 L981.0,795.1 L980.5,794.6 L980.0,795.0 L979.5,795.5 L979.0,796.0 L978.5,796.5 L978.0,797.0 L977.5,797.5 L977.0,798.1 L976.5,798.6 L976.0,799.1 L975.5,799.7 L975.0,800.2 L974.5,800.7 L974.0,801.2 L973.5,801.7 L973.0,802.1 L972.5,802.6 L972.0,803.0 L971.5,803.5 L971.0,803.9 L970.5,804.3 L970.0,804.8 L969.5,805.2 L969.0,805.6 L968.5,805.9 L968.0,806.3 L967.5,806.6 L967.0,807.0 L966.5,807.3 L966.0,807.7 L965.5,808.0 L965.0,808.4 L964.5,808.6 L964.0,808.8 L963.5,809.0 L963.0,809.1 L962.5,809.3 L962.0,809.4 L961.5,809.6 L961.0,809.7 L960.5,809.9 L960.0,810.1 L959.5,810.1 L959.0,810.2 L958.5,810.3 L958.0,810.4 L957.5,810.4 L957.0,810.5 L956.5,810.6 L956.0,810.6 L955.5,810.7 L955.0,810.7 L954.5,810.8 L954.0,810.8 L953.5,810.8 L953.0,810.8 L952.5,810.9 L952.0,810.9 L951.5,810.9 L951.0,811.0 L950.5,811.0 L950.0,811.0 L949.5,811.0 L949.0,811.0 L948.5,811.0 L948.0,811.0 L947.5,811.0 L947.0,811.0 L946.5,811.0 L946.0,811.0 L945.5,811.0 L945.0,811.0 L944.5,811.0 L944.0,811.0 L943.5,811.0 L943.0,811.0 L942.5,811.0 L942.0,811.0 L941.5,811.0 L941.0,811.0 L940.5,811.0 L940.0,811.0 L939.5,810.9 L939.0,810.9 L938.5,810.9 L938.0,810.8 L937.5,810.8 L937.0,810.8 L936.5,810.8 L936.0,810.7 L935.5,810.7 L935.0,810.6 L934.5,810.6 L934.0,810.5 L933.5,810.4 L933.0,810.4 L932.5,810.3 L932.0,810.2 L931.5,810.1 L931.0,810.1 L930.5,809.9 L930.0,809.7 L929.5,809.6 L929.0,809.4 L928.5,809.3 L928.0,809.1 L927.5,809.0 L927.0,808.8 L926.5,808.6 L926.0,808.4 L925.5,808.0 L925.0,807.7 L924.5,807.3 L924.0,807.0 L923.5,806.6 L923.0,806.3 L922.5,805.9 L922.0,805.6 L921.5,805.2 L921.0,804.8 L920.5,804.3 L920.0,803.9 L919.5,803.5 L919.0,803.0 L918.5,802.6 L918.0,802.1 L917.5,801.7 L917.0,801.2 L916.5,800.7 L916.0,800.2 L915.5,799.7 L915.0,799.1 L914.5,798.6 L914.0,798.1 L913.5,797.5 L913.0,797.0 L912.5,796.5 L912.0,796.0 L911.5,795.5 L911.0,795.0 L910.5,794.6 L910.0,795.1 L909.5,795.6 L909.0,796.1 L908.5,796.6 L908.0,797.1 L907.5,797.7 L907.0,798.2 L906.5,798.7 L906.0,799.2 L905.5,799.8 L905.0,800.3 L904.5,800.8 L904.0,801.3 L903.5,801.8 L903.0,802.2 L902.5,802.6 L902.0,803.1 L901.5,803.5 L901.0,804.0 L900.5,804.4 L900.0,804.9 L899.5,805.3 L899.0,805.7 L898.5,806.0 L898.0,806.3 L897.5,806.7 L897.0,807.0 L896.5,807.4 L896.0,807.7 L895.5,808.1 L895.0,808.4 L894.5,808.7 L894.0,808.8 L893.5,809.0 L893.0,809.1 L892.5,809.3 L892.0,809.5 L891.5,809.6 L891.0,809.8 L890.5,809.9 L890.0,810.1 L889.5,810.2 L889.0,810.2 L888.5,810.3 L888.0,810.4 L887.5,810.4 L887.0,810.5 L886.5,810.6 L886.0,810.6 L885.5,810.7 L885.0,810.7 L884.5,810.8 L884.0,810.8 L883.5,810.8 L883.0,810.9 L882.5,810.9 L882.0,810.9 L881.5,810.9 L881.0,811.0 L880.5,811.0 L880.0,811.0 L879.5,811.0 L879.0,811.0 L878.5,811.0 L878.0,811.0 L877.5,811.0 L877.0,811.0 L876.5,811.0 L876.0,811.0 L875.5,811.0 L875.0,811.0 L874.5,811.0 L874.0,811.0 L873.5,811.0 L873.0,811.0 L872.5,811.0 L872.0,811.0 L871.5,811.0 L871.0,811.0 L870.5,811.0 L870.0,811.0 L869.5,810.9 L869.0,810.9 L868.5,810.9 L868.0,810.8 L867.5,810.8 L867.0,810.8 L866.5,810.8 L866.0,810.7 L865.5,810.7 L865.0,810.6 L864.5,810.5 L864.0,810.5 L863.5,810.4 L863.0,810.3 L862.5,810.3 L862.0,810.2 L861.5,810.1 L861.0,810.0 L860.5,809.9 L860.0,809.7 L859.5,809.6 L859.0,809.4 L858.5,809.2 L858.0,809.1 L857.5,808.9 L857.0,808.8 L856.5,808.6 L856.0,808.3 L855.5,807.9 L855.0,807.6 L854.5,807.2 L854.0,806.9 L853.5,806.6 L853.0,806.2 L852.5,805.9 L852.0,805.5 L851.5,805.2 L851.0,804.7 L850.5,804.3 L850.0,803.8 L849.5,803.4 L849.0,802.9 L848.5,802.5 L848.0,802.0 L847.5,801.6 L847.0,801.1 L846.5,800.6 L846.0,800.1 L845.5,799.6 L845.0,799.0 L844.5,798.5 L844.0,798.0 L843.5,797.4 L843.0,796.9 L842.5,796.4 L842.0,795.9 L841.5,795.4 L841.0,794.9 L840.5,794.7 L840.0,795.2 L839.5,795.7 L839.0,796.2 L838.5,796.7 L838.0,797.2 L837.5,797.8 L837.0,798.3 L836.5,798.8 L836.0,799.4 L835.5,799.9 L835.0,800.4 L834.5,800.9 L834.0,801.4 L833.5,801.8 L833.0,802.3 L832.5,802.7 L832.0,803.2 L831.5,803.6 L831.0,804.1 L830.5,804.5 L830.0,805.0 L829.5,805.4 L829.0,805.7 L828.5,806.1 L828.0,806.4 L827.5,806.8 L827.0,807.1 L826.5,807.5 L826.0,807.8 L825.5,808.1 L825.0,808.5 L824.5,808.7 L824.0,808.9 L823.5,809.0 L823.0,809.2 L822.5,809.3 L822.0,809.5 L821.5,809.6 L821.0,809.8 L820.5,810.0 L820.0,810.1 L819.5,810.2 L819.0,810.2 L818.5,810.3 L818.0,810.4 L817.5,810.4 L817.0,810.5 L816.5,810.6 L816.0,810.7 L815.5,810.7 L815.0,810.7 L814.5,810.8 L814.0,810.8 L813.5,810.8 L813.0,810.9 L812.5,810.9 L812.0,810.9 L811.5,810.9 L811.0,811.0 L810.5,811.0 L810.0,811.0 L809.5,811.0 L809.0,811.0 L808.5,811.0 L808.0,811.0 L807.5,811.0 L807.0,811.0 L806.5,811.0 L806.0,811.0 L805.5,811.0 L805.0,811.0 L804.5,811.0 L804.0,811.0 L803.5,811.0 L803.0,811.0 L802.5,811.0 L802.0,811.0 L801.5,811.0 L801.0,811.0 L800.5,811.0 L800.0,811.0 L799.5,810.9 L799.0,810.9 L798.5,810.9 L798.0,810.8 L797.5,810.8 L797.0,810.8 L796.5,810.7 L796.0,810.7 L795.5,810.7 L795.0,810.6 L794.5,810.5 L794.0,810.5 L793.5,810.4 L793.0,810.3 L792.5,810.3 L792.0,810.2 L791.5,810.1 L791.0,810.0 L790.5,809.8 L790.0,809.7 L789.5,809.5 L789.0,809.4 L788.5,809.2 L788.0,809.1 L787.5,808.9 L787.0,808.7 L786.5,808.6 L786.0,808.2 L785.5,807.9 L785.0,807.5 L784.5,807.2 L784.0,806.8 L783.5,806.5 L783.0,806.1 L782.5,805.8 L782.0,805.4 L781.5,805.1 L781.0,804.6 L780.5,804.2 L780.0,803.7 L779.5,803.3 L779.0,802.8 L778.5,802.4 L778.0,801.9 L777.5,801.5 L777.0,801.0 L776.5,800.5 L776.0,800.0 L775.5,799.5 L775.0,798.9 L774.5,798.4 L774.0,797.9 L773.5,797.3 L773.0,796.8 L772.5,796.3 L772.0,795.8 L771.5,795.3 L771.0,794.8 L770.5,794.8 L770.0,795.3 L769.5,795.8 L769.0,796.3 L768.5,796.8 L768.0,797.3 L767.5,797.9 L767.0,798.4 L766.5,798.9 L766.0,799.5 L765.5,800.0 L765.0,800.5 L764.5,801.0 L764.0,801.5 L763.5,801.9 L763.0,802.4 L762.5,802.8 L762.0,803.3 L761.5,803.7 L761.0,804.2 L760.5,804.6 L760.0,805.1 L759.5,805.4 L759.0,805.8 L758.5,806.1 L758.0,806.5 L757.5,806.8 L757.0,807.2 L756.5,807.5 L756.0,807.9 L755.5,808.2 L755.0,808.6 L754.5,808.7 L754.0,808.9 L753.5,809.1 L753.0,809.2 L752.5,809.4 L752.0,809.5 L751.5,809.7 L751.0,809.8 L750.5,810.0 L750.0,810.1 L749.5,810.2 L749.0,810.3 L748.5,810.3 L748.0,810.4 L747.5,810.5 L747.0,810.5 L746.5,810.6 L746.0,810.7 L745.5,810.7 L745.0,810.7 L744.5,810.8 L744.0,810.8 L743.5,810.8 L743.0,810.9 L742.5,810.9 L742.0,810.9 L741.5,811.0 L741.0,811.0 L740.5,811.0 L740.0,811.0 L739.5,811.0 L739.0,811.0 L738.5,811.0 L738.0,811.0 L737.5,811.0 L737.0,811.0 L736.5,811.0 L736.0,811.0 L735.5,811.0 L735.0,811.0 L734.5,811.0 L734.0,811.0 L733.5,811.0 L733.0,811.0 L732.5,811.0 L732.0,811.0 L731.5,811.0 L731.0,811.0 L730.5,811.0 L730.0,810.9 L729.5,810.9 L729.0,810.9 L728.5,810.9 L728.0,810.8 L727.5,810.8 L727.0,810.8 L726.5,810.7 L726.0,810.7 L725.5,810.7 L725.0,810.6 L724.5,810.5 L724.0,810.4 L723.5,810.4 L723.0,810.3 L722.5,810.2 L722.0,810.2 L721.5,810.1 L721.0,810.0 L720.5,809.8 L720.0,809.6 L719.5,809.5 L719.0,809.3 L718.5,809.2 L718.0,809.0 L717.5,808.9 L717.0,808.7 L716.5,808.5 L716.0,808.1 L715.5,807.8 L715.0,807.5 L714.5,807.1 L714.0,806.8 L713.5,806.4 L713.0,806.1 L712.5,805.7 L712.0,805.4 L711.5,805.0 L711.0,804.5 L710.5,804.1 L710.0,803.6 L709.5,803.2 L709.0,802.7 L708.5,802.3 L708.0,801.8 L707.5,801.4 L707.0,800.9 L706.5,800.4 L706.0,799.9 L705.5,799.4 L705.0,798.8 L704.5,798.3 L704.0,797.8 L703.5,797.2 L703.0,796.7 L702.5,796.2 L702.0,795.7 L701.5,795.2 L701.0,794.7 L700.5,794.9 L700.0,795.4 L699.5,795.9 L699.0,796.4 L698.5,796.9 L698.0,797.4 L697.5,798.0 L697.0,798.5 L696.5,799.0 L696.0,799.6 L695.5,800.1 L695.0,800.6 L694.5,801.1 L694.0,801.6 L693.5,802.0 L693.0,802.5 L692.5,802.9 L692.0,803.4 L691.5,803.8 L691.0,804.3 L690.5,804.7 L690.0,805.2 L689.5,805.5 L689.0,805.9 L688.5,806.2 L688.0,806.6 L687.5,806.9 L687.0,807.2 L686.5,807.6 L686.0,807.9 L685.5,808.3 L685.0,808.6 L684.5,808.8 L684.0,808.9 L683.5,809.1 L683.0,809.2 L682.5,809.4 L682.0,809.6 L681.5,809.7 L681.0,809.9 L680.5,810.0 L680.0,810.1 L679.5,810.2 L679.0,810.3 L678.5,810.3 L678.0,810.4 L677.5,810.5 L677.0,810.5 L676.5,810.6 L676.0,810.7 L675.5,810.7 L675.0,810.8 L674.5,810.8 L674.0,810.8 L673.5,810.8 L673.0,810.9 L672.5,810.9 L672.0,810.9 L671.5,811.0 L671.0,811.0 L670.5,811.0 L670.0,811.0 L669.5,811.0 L669.0,811.0 L668.5,811.0 L668.0,811.0 L667.5,811.0 L667.0,811.0 L666.5,811.0 L666.0,811.0 L665.5,811.0 L665.0,811.0 L664.5,811.0 L664.0,811.0 L663.5,811.0 L663.0,811.0 L662.5,811.0 L662.0,811.0 L661.5,811.0 L661.0,811.0 L660.5,811.0 L660.0,810.9 L659.5,810.9 L659.0,810.9 L658.5,810.9 L658.0,810.8 L657.5,810.8 L657.0,810.8 L656.5,810.7 L656.0,810.7 L655.5,810.6 L655.0,810.6 L654.5,810.5 L654.0,810.4 L653.5,810.4 L653.0,810.3 L652.5,810.2 L652.0,810.2 L651.5,810.1 L651.0,809.9 L650.5,809.8 L650.0,809.6 L649.5,809.5 L649.0,809.3 L648.5,809.1 L648.0,809.0 L647.5,808.8 L647.0,808.7 L646.5,808.4 L646.0,808.1 L645.5,807.7 L645.0,807.4 L644.5,807.0 L644.0,806.7 L643.5,806.3 L643.0,806.0 L642.5,805.7 L642.0,805.3 L641.5,804.9 L641.0,804.4 L640.5,804.0 L640.0,803.5 L639.5,803.1 L639.0,802.6 L638.5,802.2 L638.0,801.8 L637.5,801.3 L637.0,800.8 L636.5,800.3 L636.0,799.8 L635.5,799.2 L635.0,798.7 L634.5,798.2 L634.0,797.7 L633.5,797.1 L633.0,796.6 L632.5,796.1 L632.0,795.6 L631.5,795.1 L631.0,794.6 L630.5,795.0 L630.0,795.5 L629.5,796.0 L629.0,796.5 L628.5,797.0 L628.0,797.5 L627.5,798.1 L627.0,798.6 L626.5,799.1 L626.0,799.7 L625.5,800.2 L625.0,800.7 L624.5,801.2 L624.0,801.7 L623.5,802.1 L623.0,802.6 L622.5,803.0 L622.0,803.5 L621.5,803.9 L621.0,804.3 L620.5,804.8 L620.0,805.2 L619.5,805.6 L619.0,805.9 L618.5,806.3 L618.0,806.6 L617.5,807.0 L617.0,807.3 L616.5,807.7 L616.0,808.0 L615.5,808.4 L615.0,808.6 L614.5,808.8 L614.0,809.0 L613.5,809.1 L613.0,809.3 L612.5,809.4 L612.0,809.6 L611.5,809.7 L611.0,809.9 L610.5,810.1 L610.0,810.1 L609.5,810.2 L609.0,810.3 L608.5,810.4 L608.0,810.4 L607.5,810.5 L607.0,810.6 L606.5,810.6 L606.0,810.7 L605.5,810.7 L605.0,810.8 L604.5,810.8 L604.0,810.8 L603.5,810.8 L603.0,810.9 L602.5,810.9 L602.0,810.9 L601.5,811.0 L601.0,811.0 L600.5,811.0 L600.0,811.0 L599.5,811.0 L599.0,811.0 L598.5,811.0 L598.0,811.0 L597.5,811.0 L597.0,811.0 L596.5,811.0 L596.0,811.0 L595.5,811.0 L595.0,811.0 L594.5,811.0 L594.0,811.0 L593.5,811.0 L593.0,811.0 L592.5,811.0 L592.0,811.0 L591.5,811.0 L591.0,811.0 L590.5,811.0 L590.0,810.9 L589.5,810.9 L589.0,810.9 L588.5,810.8 L588.0,810.8 L587.5,810.8 L587.0,810.8 L586.5,810.7 L586.0,810.7 L585.5,810.6 L585.0,810.6 L584.5,810.5 L584.0,810.4 L583.5,810.4 L583.0,810.3 L582.5,810.2 L582.0,810.1 L581.5,810.1 L581.0,809.9 L580.5,809.7 L580.0,809.6 L579.5,809.4 L579.0,809.3 L578.5,809.1 L578.0,809.0 L577.5,808.8 L577.0,808.6 L576.5,808.4 L576.0,808.0 L575.5,807.7 L575.0,807.3 L574.5,807.0 L574.0,806.6 L573.5,806.3 L573.0,805.9 L572.5,805.6 L572.0,805.2 L571.5,804.8 L571.0,804.3 L570.5,803.9 L570.0,803.5 L569.5,803.0 L569.0,802.6 L568.5,802.1 L568.0,801.7 L567.5,801.2 L567.0,800.7 L566.5,800.2 L566.0,799.7 L565.5,799.1 L565.0,798.6 L564.5,798.1 L564.0,797.5 L563.5,797.0 L563.0,796.5 L562.5,796.0 L562.0,795.5 L561.5,795.0 L561.0,794.6 L560.5,795.1 L560.0,795.6 L559.5,796.1 L559.0,796.6 L558.5,797.1 L558.0,797.7 L557.5,798.2 L557.0,798.7 L556.5,799.2 L556.0,799.8 L555.5,800.3 L555.0,800.8 L554.5,801.3 L554.0,801.8 L553.5,802.2 L553.0,802.6 L552.5,803.1 L552.0,803.5 L551.5,804.0 L551.0,804.4 L550.5,804.9 L550.0,805.3 L549.5,805.7 L549.0,806.0 L548.5,806.3 L548.0,806.7 L547.5,807.0 L547.0,807.4 L546.5,807.7 L546.0,808.1 L545.5,808.4 L545.0,808.7 L544.5,808.8 L544.0,809.0 L543.5,809.1 L543.0,809.3 L542.5,809.5 L542.0,809.6 L541.5,809.8 L541.0,809.9 L540.5,810.1 L540.0,810.2 L539.5,810.2 L539.0,810.3 L538.5,810.4 L538.0,810.4 L537.5,810.5 L537.0,810.6 L536.5,810.6 L536.0,810.7 L535.5,810.7 L535.0,810.8 L534.5,810.8 L534.0,810.8 L533.5,810.9 L533.0,810.9 L532.5,810.9 L532.0,810.9 L531.5,811.0 L531.0,811.0 L530.5,811.0 L530.0,811.0 L529.5,811.0 L529.0,811.0 L528.5,811.0 L528.0,811.0 L527.5,811.0 L527.0,811.0 L526.5,811.0 L526.0,811.0 L525.5,811.0 L525.0,811.0 L524.5,811.0 L524.0,811.0 L523.5,811.0 L523.0,811.0 L522.5,811.0 L522.0,811.0 L521.5,811.0 L521.0,811.0 L520.5,811.0 L520.0,810.9 L519.5,810.9 L519.0,810.9 L518.5,810.8 L518.0,810.8 L517.5,810.8 L517.0,810.8 L516.5,810.7 L516.0,810.7 L515.5,810.6 L515.0,810.5 L514.5,810.5 L514.0,810.4 L513.5,810.3 L513.0,810.3 L512.5,810.2 L512.0,810.1 L511.5,810.0 L511.0,809.9 L510.5,809.7 L510.0,809.6 L509.5,809.4 L509.0,809.2 L508.5,809.1 L508.0,808.9 L507.5,808.8 L507.0,808.6 L506.5,808.3 L506.0,807.9 L505.5,807.6 L505.0,807.2 L504.5,806.9 L504.0,806.6 L503.5,806.2 L503.0,805.9 L502.5,805.5 L502.0,805.2 L501.5,804.7 L501.0,804.3 L500.5,803.8 L500.0,803.4 L499.5,802.9 L499.0,802.5 L498.5,802.0 L498.0,801.6 L497.5,801.1 L497.0,800.6 L496.5,800.1 L496.0,799.6 L495.5,799.0 L495.0,798.5 L494.5,798.0 L494.0,797.4 L493.5,796.9 L493.0,796.4 L492.5,795.9 L492.0,795.4 L491.5,794.9 L491.0,794.7 L490.5,795.2 L490.0,795.7 L489.5,796.2 L489.0,796.7 L488.5,797.2 L488.0,797.8 L487.5,798.3 L487.0,798.8 L486.5,799.4 L486.0,799.9 L485.5,800.4 L485.0,800.9 L484.5,801.4 L484.0,801.8 L483.5,802.3 L483.0,802.7 L482.5,803.2 L482.0,803.6 L481.5,804.1 L481.0,804.5 L480.5,805.0 L480.0,805.4 L479.5,805.7 L479.0,806.1 L478.5,806.4 L478.0,806.8 L477.5,807.1 L477.0,807.5 L476.5,807.8 L476.0,808.1 L475.5,808.5 L475.0,808.7 L474.5,808.9 L474.0,809.0 L473.5,809.2 L473.0,809.3 L472.5,809.5 L472.0,809.6 L471.5,809.8 L471.0,810.0 L470.5,810.1 L470.0,810.2 L469.5,810.2 L469.0,810.3 L468.5,810.4 L468.0,810.4 L467.5,810.5 L467.0,810.6 L466.5,810.7 L466.0,810.7 L465.5,810.7 L465.0,810.8 L464.5,810.8 L464.0,810.8 L463.5,810.9 L463.0,810.9 L462.5,810.9 L462.0,810.9 L461.5,811.0 L461.0,811.0 L460.5,811.0 L460.0,811.0 L459.5,811.0 L459.0,811.0 L458.5,811.0 L458.0,811.0 L457.5,811.0 L457.0,811.0 L456.5,811.0 L456.0,811.0 L455.5,811.0 L455.0,811.0 L454.5,811.0 L454.0,811.0 L453.5,811.0 L453.0,811.0 L452.5,811.0 L452.0,811.0 L451.5,811.0 L451.0,811.0 L450.5,811.0 L450.0,810.9 L449.5,810.9 L449.0,810.9 L448.5,810.8 L448.0,810.8 L447.5,810.8 L447.0,810.7 L446.5,810.7 L446.0,810.7 L445.5,810.6 L445.0,810.5 L444.5,810.5 L444.0,810.4 L443.5,810.3 L443.0,810.3 L442.5,810.2 L442.0,810.1 L441.5,810.0 L441.0,809.8 L440.5,809.7 L440.0,809.5 L439.5,809.4 L439.0,809.2 L438.5,809.1 L438.0,808.9 L437.5,808.7 L437.0,808.6 L436.5,808.2 L436.0,807.9 L435.5,807.5 L435.0,807.2 L434.5,806.8 L434.0,806.5 L433.5,806.1 L433.0,805.8 L432.5,805.4 L432.0,805.1 L431.5,804.6 L431.0,804.2 L430.5,803.7 L430.0,803.3 L429.5,802.8 L429.0,802.4 L428.5,801.9 L428.0,801.5 L427.5,801.0 L427.0,800.5 L426.5,800.0 L426.0,799.5 L425.5,798.9 L425.0,798.4 L424.5,797.9 L424.0,797.3 L423.5,796.8 L423.0,796.3 L422.5,795.8 L422.0,795.3 L421.5,794.8 L421.0,794.8 L420.5,795.3 L420.0,795.8 L419.5,796.3 L419.0,796.8 L418.5,797.3 L418.0,797.9 L417.5,798.4 L417.0,798.9 L416.5,799.5 L416.0,800.0 L415.5,800.5 L415.0,801.0 L414.5,801.5 L414.0,801.9 L413.5,802.4 L413.0,802.8 L412.5,803.3 L412.0,803.7 L411.5,804.2 L411.0,804.6 L410.5,805.1 L410.0,805.4 L409.5,805.8 L409.0,806.1 L408.5,806.5 L408.0,806.8 L407.5,807.2 L407.0,807.5 L406.5,807.9 L406.0,808.2 L405.5,808.6 L405.0,808.7 L404.5,808.9 L404.0,809.1 L403.5,809.2 L403.0,809.4 L402.5,809.5 L402.0,809.7 L401.5,809.8 L401.0,810.0 L400.5,810.1 L400.0,810.2 L399.5,810.3 L399.0,810.3 L398.5,810.4 L398.0,810.5 L397.5,810.5 L397.0,810.6 L396.5,810.7 L396.0,810.7 L395.5,810.7 L395.0,810.8 L394.5,810.8 L394.0,810.8 L393.5,810.9 L393.0,810.9 L392.5,810.9 L392.0,811.0 L391.5,811.0 L391.0,811.0 L390.5,811.0 L390.0,811.0 L389.5,811.0 L389.0,811.0 L388.5,811.0 L388.0,811.0 L387.5,811.0 L387.0,811.0 L386.5,811.0 L386.0,811.0 L385.5,811.0 L385.0,811.0 L384.5,811.0 L384.0,811.0 L383.5,811.0 L383.0,811.0 L382.5,811.0 L382.0,811.0 L381.5,811.0 L381.0,811.0 L380.5,810.9 L380.0,810.9 L379.5,810.9 L379.0,810.9 L378.5,810.8 L378.0,810.8 L377.5,810.8 L377.0,810.7 L376.5,810.7 L376.0,810.7 L375.5,810.6 L375.0,810.5 L374.5,810.4 L374.0,810.4 L373.5,810.3 L373.0,810.2 L372.5,810.2 L372.0,810.1 L371.5,810.0 L371.0,809.8 L370.5,809.6 L370.0,809.5 L369.5,809.3 L369.0,809.2 L368.5,809.0 L368.0,808.9 L367.5,808.7 L367.0,808.5 L366.5,808.1 L366.0,807.8 L365.5,807.5 L365.0,807.1 L364.5,806.8 L364.0,806.4 L363.5,806.1 L363.0,805.7 L362.5,805.4 L362.0,805.0 L361.5,804.5 L361.0,804.1 L360.5,803.6 L360.0,803.2 L359.5,802.7 L359.0,802.3 L358.5,801.8 L358.0,801.4 L357.5,800.9 L357.0,800.4 L356.5,799.9 L356.0,799.4 L355.5,798.8 L355.0,798.3 L354.5,797.8 L354.0,797.2 L353.5,796.7 L353.0,796.2 L352.5,795.7 L352.0,795.2 L351.5,794.7 L351.0,794.9 L350.5,795.4 L350.0,795.9 L349.5,796.4 L349.0,796.9 L348.5,797.4 L348.0,798.0 L347.5,798.5 L347.0,799.0 L346.5,799.6 L346.0,800.1 L345.5,800.6 L345.0,801.1 L344.5,801.6 L344.0,802.0 L343.5,802.5 L343.0,802.9 L342.5,803.4 L342.0,803.8 L341.5,804.3 L341.0,804.7 L340.5,805.2 L340.0,805.5 L339.5,805.9 L339.0,806.2 L338.5,806.6 L338.0,806.9 L337.5,807.2 L337.0,807.6 L336.5,807.9 L336.0,808.3 L335.5,808.6 L335.0,808.8 L334.5,808.9 L334.0,809.1 L333.5,809.2 L333.0,809.4 L332.5,809.6 L332.0,809.7 L331.5,809.9 L331.0,810.0 L330.5,810.1 L330.0,810.2 L329.5,810.3 L329.0,810.3 L328.5,810.4 L328.0,810.5 L327.5,810.5 L327.0,810.6 L326.5,810.7 L326.0,810.7 L325.5,810.8 L325.0,810.8 L324.5,810.8 L324.0,810.8 L323.5,810.9 L323.0,810.9 L322.5,810.9 L322.0,811.0 L321.5,811.0 L321.0,811.0 L320.5,811.0 L320.0,811.0 L319.5,811.0 L319.0,811.0 L318.5,811.0 L318.0,811.0 L317.5,811.0 L317.0,811.0 L316.5,811.0 L316.0,811.0 L315.5,811.0 L315.0,811.0 L314.5,811.0 L314.0,811.0 L313.5,811.0 L313.0,811.0 L312.5,811.0 L312.0,811.0 L311.5,811.0 L311.0,811.0 L310.5,810.9 L310.0,810.9 L309.5,810.9 L309.0,810.9 L308.5,810.8 L308.0,810.8 L307.5,810.8 L307.0,810.7 L306.5,810.7 L306.0,810.6 L305.5,810.6 L305.0,810.5 L304.5,810.4 L304.0,810.4 L303.5,810.3 L303.0,810.2 L302.5,810.2 L302.0,810.1 L301.5,809.9 L301.0,809.8 L300.5,809.6 L300.0,809.5 L299.5,809.3 L299.0,809.1 L298.5,809.0 L298.0,808.8 L297.5,808.7 L297.0,808.4 L296.5,808.1 L296.0,807.7 L295.5,807.4 L295.0,807.0 L294.5,806.7 L294.0,806.3 L293.5,806.0 L293.0,805.7 L292.5,805.3 L292.0,804.9 L291.5,804.4 L291.0,804.0 L290.5,803.5 L290.0,803.1 L289.5,802.6 L289.0,802.2 L288.5,801.8 L288.0,801.3 L287.5,800.8 L287.0,800.3 L286.5,799.8 L286.0,799.2 L285.5,798.7 L285.0,798.2 L284.5,797.7 L284.0,797.1 L283.5,796.6 L283.0,796.1 L282.5,795.6 L282.0,795.1 L281.5,794.6 L281.0,795.0 L280.5,795.5 L280.0,796.0 L279.5,796.5 L279.0,797.0 L278.5,797.5 L278.0,798.1 L277.5,798.6 L277.0,799.1 L276.5,799.7 L276.0,800.2 L275.5,800.7 L275.0,801.2 L274.5,801.7 L274.0,802.1 L273.5,802.6 L273.0,803.0 L272.5,803.5 L272.0,803.9 L271.5,804.3 L271.0,804.8 L270.5,805.2 L270.0,805.6 L269.5,805.9 L269.0,806.3 L268.5,806.6 L268.0,807.0 L267.5,807.3 L267.0,807.7 L266.5,808.0 L266.0,808.4 L265.5,808.6 L265.0,808.8 L264.5,809.0 L264.0,809.1 L263.5,809.3 L263.0,809.4 L262.5,809.6 L262.0,809.7 L261.5,809.9 L261.0,810.1 L260.5,810.1 L260.0,810.2 L259.5,810.3 L259.0,810.4 L258.5,810.4 L258.0,810.5 L257.5,810.6 L257.0,810.6 L256.5,810.7 L256.0,810.7 L255.5,810.8 L255.0,810.8 L254.5,810.8 L254.0,810.8 L253.5,810.9 L253.0,810.9 L252.5,810.9 L252.0,811.0 L251.5,811.0 L251.0,811.0 L250.5,811.0 L250.0,811.0 L249.5,811.0 L249.0,811.0 L248.5,811.0 L248.0,811.0 L247.5,811.0 L247.0,811.0 L246.5,811.0 L246.0,811.0 L245.5,811.0 L245.0,811.0 L244.5,811.0 L244.0,811.0 L243.5,811.0 L243.0,811.0 L242.5,811.0 L242.0,811.0 L241.5,811.0 L241.0,811.0 L240.5,810.9 L240.0,810.9 L239.5,810.9 L239.0,810.8 L238.5,810.8 L238.0,810.8 L237.5,810.8 L237.0,810.7 L236.5,810.7 L236.0,810.6 L235.5,810.6 L235.0,810.5 L234.5,810.4 L234.0,810.4 L233.5,810.3 L233.0,810.2 L232.5,810.1 L232.0,810.1 L231.5,809.9 L231.0,809.7 L230.5,809.6 L230.0,809.4 L229.5,809.3 L229.0,809.1 L228.5,809.0 L228.0,808.8 L227.5,808.6 L227.0,808.4 L226.5,808.0 L226.0,807.7 L225.5,807.3 L225.0,807.0 L224.5,806.6 L224.0,806.3 L223.5,805.9 L223.0,805.6 L222.5,805.2 L222.0,804.8 L221.5,804.3 L221.0,803.9 L220.5,803.5 L220.0,803.0 L219.5,802.6 L219.0,802.1 L218.5,801.7 L218.0,801.2 L217.5,800.7 L217.0,800.2 L216.5,799.7 L216.0,799.1 L215.5,798.6 L215.0,798.1 L214.5,797.5 L214.0,797.0 L213.5,796.5 L213.0,796.0 L212.5,795.5 L212.0,795.0 L211.5,794.6 L211.0,795.1 L210.5,795.6 Z" fill="#008080" clip-path="url(#pc)"/>
<rect x="274" y="281.5" width="581.3" height="483.5" fill="#fff"/>
<g stroke="#000" stroke-width="5.3" fill="none">
<path d="M211.9,45.4 H1170.3 V817.2 H211.9 Z" stroke-linejoin="miter"/>
</g>
<g stroke="#000" stroke-width="4.6" fill="none"><line x1="211.9" y1="740.1" x2="219.4" y2="740.1"/><line x1="211.9" y1="662.9" x2="226.9" y2="662.9"/><line x1="211.9" y1="585.7" x2="219.4" y2="585.7"/><line x1="211.9" y1="508.5" x2="226.9" y2="508.5"/><line x1="211.9" y1="431.3" x2="219.4" y2="431.3"/><line x1="211.9" y1="354.2" x2="226.9" y2="354.2"/><line x1="211.9" y1="277.0" x2="219.4" y2="277.0"/><line x1="211.9" y1="199.8" x2="226.9" y2="199.8"/><line x1="211.9" y1="122.6" x2="219.4" y2="122.6"/><line x1="451.6" y1="817.2" x2="451.6" y2="809.2"/><line x1="691.2" y1="817.2" x2="691.2" y2="802.2"/><line x1="930.9" y1="817.2" x2="930.9" y2="809.2"/></g>

<text transform="matrix(0.9959,0,0,1.0488,115.42,64.35)" font-size="64" fill="#000">1.0</text>
<text transform="matrix(1.0158,0,0,1.0395,112.47,218.66)" font-size="64" fill="#000">0.8</text>
<text transform="matrix(1.0342,0,0,1.0814,112.33,374.32)" font-size="64" fill="#000">0.6</text>
<text transform="matrix(1.0208,0,0,1.0558,112.36,528.24)" font-size="64" fill="#000">0.4</text>
<text transform="matrix(1.0333,0,0,1.0674,112.33,683.23)" font-size="64" fill="#000">0.2</text>
<text transform="matrix(1.1464,0,0,1.1884,158.81,840.01)" font-size="64" fill="#000">0</text>
<text transform="matrix(0.9992,0,0,1.0409,137.70,890.96)" font-size="66" fill="#000">2048</text>
<text transform="matrix(0.9992,0,0,1.0409,617.70,890.96)" font-size="66" fill="#000">2049</text>
<text transform="matrix(0.9992,0,0,1.0409,1097.70,890.96)" font-size="66" fill="#000">2050</text>
<text transform="matrix(1.0024,0,0,1.0100,439.10,965.56)" font-size="66" fill="#000">Wavelength (nm)</text>
<text transform="matrix(0,-1.0005,1.0432,0,59.36,598.90)" font-size="66" fill="#000">Transmittance</text>
<text transform="matrix(1.0043,0,0,1.0341,987.49,144.97)" font-size="66" fill="#000">FCTR</text>
<text transform="matrix(0.9912,0,0,1.0568,532.04,128.94)" font-size="66" fill="#7a0000">10.4 GHz</text>
<!-- legend -->
<line x1="886" y1="131.9" x2="979.5" y2="131.9" stroke="#008080" stroke-width="4.6"/>


<!-- 10.4 GHz annotation -->

<g stroke="#7a0000" stroke-width="6" fill="none">
<line x1="597.9" y1="155" x2="597.9" y2="204.7"/>
<line x1="664.2" y1="155" x2="664.2" y2="204.7"/>
</g>
<line x1="615" y1="178.2" x2="648" y2="178.2" stroke="#7a0000" stroke-width="3.6"/>
<path d="M600.9,178.2 L622.8,171.8 L622.8,184.6 Z M660.6,178.2 L639,171.8 L639,184.6 Z" fill="#7a0000"/>

<!-- dashed ellipse + arrow -->
<path d="M431.75,205 A28.1,42.2 0 0 1 487.95,205 A28.1,42.2 0 0 1 431.75,205" fill="none" stroke="#7a0000" stroke-width="5.5" stroke-dasharray="19.8 7"/>
<line x1="489" y1="221.6" x2="565" y2="295.4" stroke="#7a0000" stroke-width="5.8"/>
<path d="M578.6,308.6 L556.3,301.4 L570.8,286.5 Z" fill="#7a0000"/>

<!-- inset -->
<path d="M347.0,671.3 L348.0,671.2 L349.0,671.1 L350.0,671.0 L351.0,670.9 L352.0,670.8 L353.0,670.7 L354.0,670.6 L355.0,670.5 L356.0,670.4 L357.0,670.3 L358.0,670.2 L359.0,670.1 L360.0,670.0 L361.0,669.9 L362.0,669.8 L363.0,669.7 L364.0,669.5 L365.0,669.4 L366.0,669.3 L367.0,669.2 L368.0,669.1 L369.0,668.9 L370.0,668.8 L371.0,668.7 L372.0,668.6 L373.0,668.5 L374.0,668.3 L375.0,668.2 L376.0,668.1 L377.0,667.9 L378.0,667.8 L379.0,667.7 L380.0,667.5 L381.0,667.4 L382.0,667.3 L383.0,667.1 L384.0,667.0 L385.0,666.8 L386.0,666.7 L387.0,666.5 L388.0,666.4 L389.0,666.2 L390.0,666.1 L391.0,665.9 L392.0,665.7 L393.0,665.6 L394.0,665.4 L395.0,665.3 L396.0,665.1 L397.0,665.0 L398.0,664.8 L399.0,664.7 L400.0,664.5 L401.0,664.3 L402.0,664.2 L403.0,664.0 L404.0,663.9 L405.0,663.7 L406.0,663.6 L407.0,663.4 L408.0,663.2 L409.0,663.1 L410.0,662.9 L411.0,662.7 L412.0,662.6 L413.0,662.4 L414.0,662.2 L415.0,662.0 L416.0,661.8 L417.0,661.6 L418.0,661.4 L419.0,661.2 L420.0,661.0 L421.0,660.8 L422.0,660.6 L423.0,660.3 L424.0,660.1 L425.0,659.8 L426.0,659.6 L427.0,659.3 L428.0,659.0 L429.0,658.7 L430.0,658.4 L431.0,658.0 L432.0,657.7 L433.0,657.3 L434.0,656.9 L435.0,656.5 L436.0,656.1 L437.0,655.7 L438.0,655.3 L439.0,654.9 L440.0,654.4 L441.0,653.9 L442.0,653.4 L443.0,652.9 L444.0,652.3 L445.0,651.7 L446.0,651.1 L447.0,650.5 L448.0,649.9 L449.0,649.3 L450.0,648.6 L451.0,648.0 L452.0,647.3 L453.0,646.6 L454.0,645.9 L455.0,645.2 L456.0,644.5 L457.0,643.7 L458.0,642.9 L459.0,642.1 L460.0,641.3 L461.0,640.5 L462.0,639.6 L463.0,638.7 L464.0,637.8 L465.0,636.9 L466.0,635.9 L467.0,635.0 L468.0,634.0 L469.0,633.0 L470.0,631.9 L471.0,630.9 L472.0,629.8 L473.0,628.6 L474.0,627.5 L475.0,626.3 L476.0,625.1 L477.0,623.9 L478.0,622.6 L479.0,621.3 L480.0,620.0 L481.0,618.6 L482.0,617.3 L483.0,615.8 L484.0,614.4 L485.0,612.9 L486.0,611.4 L487.0,609.8 L488.0,608.2 L489.0,606.6 L490.0,604.9 L491.0,603.2 L492.0,601.4 L493.0,599.6 L494.0,597.8 L495.0,595.9 L496.0,594.0 L497.0,592.1 L498.0,590.1 L499.0,588.0 L500.0,585.9 L501.0,583.8 L502.0,581.6 L503.0,579.4 L504.0,577.1 L505.0,574.8 L506.0,572.5 L507.0,570.1 L508.0,567.6 L509.0,565.1 L510.0,562.6 L511.0,560.0 L512.0,557.3 L513.0,554.6 L514.0,551.9 L515.0,549.1 L516.0,546.3 L517.0,543.4 L518.0,540.5 L519.0,537.6 L520.0,534.6 L521.0,531.5 L522.0,528.4 L523.0,525.3 L524.0,522.2 L525.0,519.0 L526.0,515.7 L527.0,512.5 L528.0,509.2 L529.0,505.8 L530.0,502.5 L531.0,499.1 L532.0,495.7 L533.0,492.2 L534.0,488.8 L535.0,485.3 L536.0,481.8 L537.0,478.4 L538.0,474.9 L539.0,471.4 L540.0,467.9 L541.0,464.4 L542.0,461.0 L543.0,457.5 L544.0,454.1 L545.0,450.7 L546.0,447.3 L547.0,443.9 L548.0,440.6 L549.0,437.3 L550.0,434.1 L551.0,431.0 L552.0,427.8 L553.0,424.8 L554.0,421.8 L555.0,418.9 L556.0,416.1 L557.0,413.4 L558.0,410.7 L559.0,408.2 L560.0,405.7 L561.0,403.4 L562.0,401.1 L563.0,399.0 L564.0,397.0 L565.0,395.1 L566.0,393.4 L567.0,391.7 L568.0,390.2 L569.0,388.9 L570.0,387.7 L571.0,386.6 L572.0,385.7 L573.0,384.9 L574.0,384.3 L575.0,383.8 L576.0,383.5 L577.0,383.3 L578.0,383.3 L579.0,383.4 L580.0,383.7 L581.0,384.2 L582.0,384.8 L583.0,385.5 L584.0,386.4 L585.0,387.5 L586.0,388.6 L587.0,390.0 L588.0,391.4 L589.0,393.0 L590.0,394.8 L591.0,396.6 L592.0,398.6 L593.0,400.7 L594.0,402.9 L595.0,405.2 L596.0,407.7 L597.0,410.2 L598.0,412.8 L599.0,415.6 L600.0,418.4 L601.0,421.2 L602.0,424.2 L603.0,427.2 L604.0,430.3 L605.0,433.5 L606.0,436.7 L607.0,440.0 L608.0,443.3 L609.0,446.6 L610.0,450.0 L611.0,453.4 L612.0,456.8 L613.0,460.3 L614.0,463.7 L615.0,467.2 L616.0,470.7 L617.0,474.2 L618.0,477.7 L619.0,481.2 L620.0,484.6 L621.0,488.1 L622.0,491.5 L623.0,495.0 L624.0,498.4 L625.0,501.8 L626.0,505.1 L627.0,508.5 L628.0,511.8 L629.0,515.1 L630.0,518.3 L631.0,521.5 L632.0,524.7 L633.0,527.8 L634.0,530.9 L635.0,534.0 L636.0,537.0 L637.0,539.9 L638.0,542.8 L639.0,545.6 L640.0,548.3 L641.0,551.0 L642.0,553.6 L643.0,556.2 L644.0,558.7 L645.0,561.2 L646.0,563.6 L647.0,566.0 L648.0,568.4 L649.0,570.7 L650.0,573.0 L651.0,575.2 L652.0,577.4 L653.0,579.5 L654.0,581.6 L655.0,583.6 L656.0,585.6 L657.0,587.6 L658.0,589.5 L659.0,591.4 L660.0,593.2 L661.0,595.0 L662.0,596.8 L663.0,598.5 L664.0,600.2 L665.0,601.9 L666.0,603.5 L667.0,605.0 L668.0,606.6 L669.0,608.1 L670.0,609.6 L671.0,611.0 L672.0,612.4 L673.0,613.8 L674.0,615.2 L675.0,616.5 L676.0,617.8 L677.0,619.0 L678.0,620.3 L679.0,621.5 L680.0,622.6 L681.0,623.8 L682.0,624.9 L683.0,626.0 L684.0,627.1 L685.0,628.1 L686.0,629.1 L687.0,630.1 L688.0,631.1 L689.0,632.2 L690.0,633.2 L691.0,634.2 L692.0,635.1 L693.0,636.1 L694.0,637.0 L695.0,637.9 L696.0,638.7 L697.0,639.6 L698.0,640.4 L699.0,641.2 L700.0,642.0 L701.0,642.8 L702.0,643.6 L703.0,644.3 L704.0,645.0 L705.0,645.7 L706.0,646.4 L707.0,647.1 L708.0,647.7 L709.0,648.4 L710.0,649.0 L711.0,649.6 L712.0,650.2 L713.0,650.8 L714.0,651.4 L715.0,651.9 L716.0,652.5 L717.0,653.0 L718.0,653.5 L719.0,654.1 L720.0,654.6 L721.0,655.1 L722.0,655.6 L723.0,656.1 L724.0,656.6 L725.0,657.1 L726.0,657.7 L727.0,658.2 L728.0,658.7 L729.0,659.2 L730.0,659.7 L731.0,660.2 L732.0,660.6 L733.0,661.1 L734.0,661.5 L735.0,661.9 L736.0,662.2 L737.0,662.6 L738.0,662.9 L739.0,663.1 L740.0,663.4 L741.0,663.6 L742.0,663.8 L743.0,664.0 L744.0,664.2 L745.0,664.4 L746.0,664.6 L747.0,664.8 L748.0,664.9 L749.0,665.1 L750.0,665.2 L751.0,665.4 L752.0,665.6 L753.0,665.7 L754.0,665.8 L755.0,666.0 L756.0,666.1 L757.0,666.3 L758.0,666.4 L759.0,666.6 L760.0,666.7 L761.0,666.8 L762.0,667.0 L763.0,667.1 L764.0,667.2 L765.0,667.4 L766.0,667.5 L767.0,667.6 L768.0,667.7 L769.0,667.9 L770.0,668.0 L771.0,668.1 L772.0,668.2 L773.0,668.3 L774.0,668.4 L775.0,668.5 L776.0,668.7 L777.0,668.8 L778.0,668.9 L779.0,669.0 L780.0,669.1 L781.0,669.2 L782.0,669.3 L783.0,669.4 L784.0,669.5 L785.0,669.6 L786.0,669.7 L787.0,669.8 L788.0,669.9 L789.0,670.0 L790.0,670.1 L791.0,670.2 L792.0,670.3 L793.0,670.4 L794.0,670.5 L795.0,670.6 L796.0,670.7 L797.0,670.8 L798.0,670.9 L799.0,671.0 L800.0,671.1 L801.0,671.2 L802.5,671.2" fill="none" stroke="#008080" stroke-width="3.8" stroke-linejoin="round"/>
<g stroke="#000" stroke-width="4.5" fill="none">
<path d="M346,310.5 H803.2 V679.2 H346 Z" stroke-linejoin="round"/>
</g>
<g stroke="#000" stroke-width="4" fill="none"><line x1="346" y1="642.4" x2="350.4" y2="642.4"/><line x1="346" y1="605.5" x2="353.4" y2="605.5"/><line x1="346" y1="568.7" x2="350.4" y2="568.7"/><line x1="346" y1="531.8" x2="353.4" y2="531.8"/><line x1="346" y1="495.0" x2="350.4" y2="495.0"/><line x1="346" y1="458.1" x2="353.4" y2="458.1"/><line x1="346" y1="421.3" x2="350.4" y2="421.3"/><line x1="346" y1="384.4" x2="353.4" y2="384.4"/><line x1="346" y1="347.6" x2="350.4" y2="347.6"/><line x1="376.0" y1="679.2" x2="376.0" y2="672.0"/><line x1="467.6" y1="679.2" x2="467.6" y2="674.5"/><line x1="559.1" y1="679.2" x2="559.1" y2="672.0"/><line x1="650.6" y1="679.2" x2="650.6" y2="674.5"/><line x1="742.2" y1="679.2" x2="742.2" y2="672.0"/></g>
<text transform="matrix(1.0125,0,0,1.1273,294.48,322.50)" font-size="34" font-weight="bold" fill="#000">1.0</text>
<text transform="matrix(1.0244,0,0,1.1545,293.98,395.80)" font-size="34" font-weight="bold" fill="#000">0.8</text>
<text transform="matrix(1.0244,0,0,1.1318,293.98,469.90)" font-size="34" font-weight="bold" fill="#000">0.6</text>
<text transform="matrix(1.0244,0,0,1.1318,293.98,543.50)" font-size="34" font-weight="bold" fill="#000">0.4</text>
<text transform="matrix(1.0244,0,0,1.1318,293.98,617.20)" font-size="34" font-weight="bold" fill="#000">0.2</text>
<text transform="matrix(1.0244,0,0,1.1273,293.98,690.80)" font-size="34" font-weight="bold" fill="#000">0.0</text>
<text transform="matrix(1.0124,0,0,1.0000,301.59,720.20)" font-size="35" font-weight="bold" fill="#000">2048.5116</text>
<text transform="matrix(0.9932,0,0,1.0292,484.71,720.50)" font-size="35" font-weight="bold" fill="#000">2048.5122</text>
<text transform="matrix(0.9980,0,0,1.0292,668.30,720.50)" font-size="35" font-weight="bold" fill="#000">2048.5128</text>
<text transform="matrix(1.0289,0,0,1.0032,446.20,754.78)" font-size="34" font-weight="bold" fill="#000">Wavelength (nm)</text>
<text transform="matrix(1.0021,0,0,1.0545,542.00,345.30)" font-size="31" font-weight="bold" fill="#000">Zoomed-in FCTR</text>
<text transform="matrix(1.0133,0,0,1.0952,648.09,527.10)" font-size="31" font-weight="bold" fill="#7a0000">24.9 MHz</text>
<line x1="491.3" y1="338" x2="538.6" y2="338" stroke="#008080" stroke-width="4.2"/>


<line x1="540" y1="527.4" x2="615" y2="527.4" stroke="#000" stroke-width="4"/>
<path d="M519.2,527.4 L545.3,520 L545.3,534.8 Z M635.2,527.4 L608.7,520 L608.7,534.8 Z" fill="#000"/>
</svg>
</div></body></html>
